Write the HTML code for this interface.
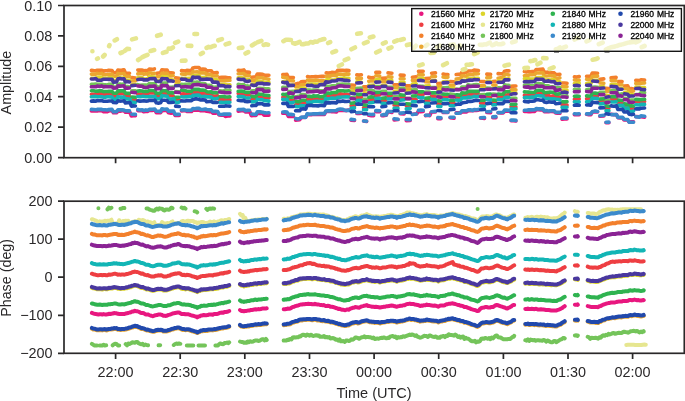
<!DOCTYPE html>
<html><head><meta charset="utf-8"><title>Amplitude and Phase</title>
<style>html,body{margin:0;padding:0;background:#fff}svg{display:block;will-change:transform}text{font-family:"Liberation Sans",sans-serif}</style></head>
<body>
<svg width="685" height="401" viewBox="0 0 685 401">
<rect width="685" height="401" fill="#fff"/>
<g fill="none" stroke-width="3.6" stroke-linecap="round" stroke-linejoin="round">
<path d="M91.4 110.9L93.6 111.0L95.8 111.0L97.2 110.9L99.5 110.4L101.8 110.7L103.2 111.6L105.2 111.8L107.3 111.7L108.7 110.9L112.0 110.5L113.4 112.8L116.5 112.8L117.9 111.2L119.9 111.3L122.0 110.8L124.0 110.8L125.4 112.3L127.7 112.3L130.0 112.5L131.4 116.0L133.4 115.8L135.4 115.6M137.8 110.6L140.0 110.6L142.3 110.7L143.7 111.7L145.8 111.5L147.8 111.4L149.2 110.4L152.1 110.4L154.9 110.0L156.3 112.8L158.4 112.7L160.5 112.8L161.9 110.7L164.5 110.5L167.1 110.5L168.5 112.8L171.1 113.1L173.7 112.8L175.1 115.4L177.1 115.5L179.2 115.5M181.5 110.9L183.5 110.7L185.5 110.7L186.9 111.4L189.2 111.3L191.5 111.5L192.9 109.8L194.9 110.3L197.0 110.1L199.0 109.9L200.4 110.6L202.8 110.6L205.3 110.7L206.7 111.2L209.0 111.6L211.3 111.7L212.7 113.1L215.2 113.1L217.7 112.8L219.1 115.0L221.6 115.1L224.0 115.1L225.4 116.4L227.7 116.0L229.9 115.9M238.2 111.1L241.1 110.8L243.9 110.6L245.3 111.9L247.6 111.6L249.9 111.9L251.3 115.6L253.6 115.5L255.9 115.4L257.3 113.3L260.0 113.4L262.6 113.3L264.0 115.1L266.4 115.0L268.9 115.1M282.8 113.3L284.9 113.2L287.0 113.6L288.4 116.5L290.9 116.5L293.4 116.4M295.6 120.1L297.7 120.0L299.7 119.7L301.1 117.6L303.4 117.5L305.7 117.3L307.1 114.5L309.5 114.7L311.9 114.6L313.3 114.2L315.7 114.4L318.1 114.1L319.5 114.5L322.0 114.5L324.4 114.5L325.8 111.5L328.1 111.5L330.4 111.5L331.8 111.6L334.1 111.6L336.4 111.9L337.8 110.5L340.3 110.4L342.8 110.2L344.2 110.5L346.5 110.6L348.9 110.1M351.1 120.2L354.5 120.4M356.8 113.4L359.1 113.4L361.4 113.2M363.6 121.0L366.6 121.4M368.8 115.3L371.2 115.6L373.6 115.7M375.8 111.7L379.7 111.7M381.9 115.7L384.1 115.6L386.2 115.2L387.6 112.0L389.7 112.0L391.9 112.5M394.1 119.9L398.0 119.5M400.2 113.8L404.1 113.9M406.3 120.6L410.2 120.4M412.4 114.3L414.6 114.1L416.7 114.0L418.1 111.7L420.7 111.6L423.2 111.5M425.5 115.6L427.7 115.3L429.8 115.6L431.2 112.3L433.3 111.9L435.5 111.9M437.8 118.7L440.9 118.7M443.1 112.5L445.5 112.3L447.9 112.4M450.1 117.7L454.0 118.2M456.2 112.8L458.4 112.8L460.5 112.9L461.9 112.0L464.2 111.7L466.6 112.0L468.0 110.8L470.4 110.8L472.7 110.8L474.1 110.1L476.2 110.4L478.4 110.2M480.6 118.0L484.5 118.4M486.8 112.4L490.6 112.6M492.8 117.7L495.9 117.6M498.1 112.7L500.7 112.9L503.2 112.9L504.6 111.3L506.7 110.9L508.9 111.1M511.1 120.7L513.5 120.7L515.9 121.0M524.4 111.5L526.5 111.5L528.6 111.6L530.0 111.7L532.3 111.4L534.7 111.5L536.1 109.7L538.4 109.8L540.6 109.9L542.9 109.7L544.3 111.6L546.4 111.6L548.5 111.8L549.9 111.4L552.0 111.5L554.2 111.6L555.6 112.9L557.7 113.1L559.9 113.3M562.1 119.3L564.5 118.9L567.0 118.9M574.4 114.7L576.8 114.5L579.2 114.6M586.6 114.3L588.8 114.7L590.9 114.7L592.3 112.0L595.0 111.6L597.6 111.9M599.9 116.3L603.8 116.0M606.0 122.8L608.9 122.8M611.1 114.3L613.8 114.8L616.5 114.5L617.9 117.6L620.2 117.9L622.6 117.8L624.0 119.9L627.7 120.0L629.1 122.0L631.3 121.9L633.5 121.8M635.8 116.6L639.5 116.8L640.9 116.8L644.6 117.1" stroke="#e8177f"/>
<path d="M91.4 94.2L93.6 94.2L95.8 94.1L97.2 93.2L99.5 93.2L101.8 93.2L103.2 94.1L105.2 93.9L107.3 94.1L108.7 93.8L112.0 94.2L113.4 96.3L116.5 96.1L117.9 93.4L119.9 93.8L122.0 93.4L124.0 93.4L125.4 96.2L127.5 96.4L129.5 96.4M131.8 100.0L135.4 99.8M137.8 94.3L140.0 94.0L142.3 94.1L143.7 93.7L145.8 93.9L147.8 93.7L149.2 92.9L152.1 93.0L154.9 93.0L156.3 95.7L158.4 95.7L160.5 95.8L161.9 93.6L164.5 93.7L167.1 93.8L168.5 95.6L170.9 95.5L173.2 95.9M175.6 99.3L179.2 99.7M181.5 94.0L183.5 93.7L185.5 94.1L186.9 94.9L189.2 94.8L191.5 94.8L192.9 92.6L194.9 92.2L197.0 92.4L199.0 92.4L200.4 93.3L202.8 93.3L205.3 93.3L206.7 94.1L209.0 94.3L211.3 94.2L212.7 96.3L215.2 96.0L217.7 95.9L219.1 99.2L221.6 99.4L224.0 99.2L225.4 100.0L227.7 99.9L229.9 99.9M238.2 93.5L241.1 93.5L243.9 93.4L245.3 94.5L247.4 95.0L249.4 95.0M251.8 99.6L253.8 99.6L255.9 99.7L257.3 96.7L260.0 97.1L262.6 96.8L264.0 97.5L266.4 97.7L268.9 97.9M282.8 97.2L284.9 97.5L287.0 97.7L288.4 100.2L290.9 100.1L293.4 100.2M295.6 104.8L297.7 104.8L299.7 104.7L301.1 102.7L303.4 102.4L305.7 102.4L307.1 99.6L309.5 99.9L311.9 99.6L313.3 98.7L315.7 98.4L318.1 98.4L319.5 99.4L321.7 99.7L324.0 99.7M326.2 96.0L328.3 95.8L330.4 95.9L331.8 95.4L334.1 95.4L336.4 95.2L337.8 94.3L340.3 93.9L342.8 94.3L344.2 95.0L346.5 94.4L348.9 94.7M351.1 105.8L354.5 105.9M356.8 97.3L359.1 97.2L361.4 97.1M363.6 107.7L366.6 107.3M368.8 99.7L371.2 99.4L373.6 99.7M375.8 95.5L379.7 95.0M381.9 100.4L385.8 100.2M388.0 96.1L391.9 96.0M394.1 105.0L398.0 105.4M400.2 97.4L404.1 97.2M406.3 105.6L410.2 105.9M412.4 99.3L416.2 99.2M418.5 94.5L420.9 94.6L423.2 94.6M425.5 100.7L429.4 100.2M431.6 96.1L435.5 96.2M437.8 103.7L440.9 104.2M443.1 96.7L445.5 96.8L447.9 96.4M450.1 103.0L454.0 103.0M456.2 97.5L458.4 97.2L460.5 97.1L461.9 95.8L464.2 95.7L466.6 95.6L468.0 94.1L470.4 94.6L472.7 94.2L474.1 94.1L476.2 93.7L478.4 93.7M480.6 103.2L484.5 103.1M486.8 97.3L490.6 97.6M492.8 102.5L495.9 102.5M498.1 97.3L500.7 97.5L503.2 97.5L504.6 94.9L506.7 95.0L508.9 94.6M511.1 106.9L513.5 106.8L515.9 107.0M524.4 95.4L526.5 95.2L528.6 95.1L530.0 95.0L532.3 94.6L534.7 94.8L536.1 93.3L538.4 93.2L540.6 93.5L542.9 93.6L544.3 95.4L546.4 95.6L548.5 95.4L549.9 96.2L552.0 96.1L554.2 95.9L555.6 96.8L557.7 96.8L559.9 97.2M562.1 104.9L564.5 104.7L567.0 105.1M574.4 99.3L576.8 99.0L579.2 98.8M586.6 98.8L588.8 98.7L590.9 98.9L592.3 95.7L595.0 95.8L597.6 95.8M599.9 101.2L603.8 101.3M606.0 108.4L608.9 108.2M611.1 99.3L613.8 99.3L616.5 99.2L617.9 102.5L620.0 102.3L622.1 102.4M624.4 106.7L627.7 106.2L629.1 108.4L631.3 108.5L633.5 108.7M635.8 101.7L639.5 101.8L640.9 101.4L644.6 101.5" stroke="#ee3e42"/>
<path d="M91.4 70.4L93.6 70.6L95.8 70.7L97.2 70.3L99.5 70.4L101.8 70.3L103.2 71.3L105.2 70.8L107.3 70.7L108.7 70.3L112.0 70.5L113.4 72.7L116.5 72.7L117.9 70.0L119.9 70.2L122.0 70.1L124.0 69.8L125.4 72.9L127.5 73.4L129.5 73.2M131.8 77.6L135.4 78.0M137.8 70.1L140.0 70.1L142.3 70.1L143.7 70.7L145.8 70.6L147.8 70.7L149.2 69.1L151.8 69.4L154.4 68.9M156.8 73.2L160.5 72.7L161.9 69.8L164.5 70.1L167.1 70.1L168.5 73.0L170.9 72.7L173.2 73.0M175.6 77.9L179.2 78.3M181.5 70.6L183.5 70.7L185.5 71.1L186.9 70.3L189.2 70.5L191.5 70.8L192.9 67.9L194.9 67.5L197.0 67.5L199.0 67.5L200.4 69.5L202.8 69.1L205.3 69.4L206.7 71.2L209.0 70.8L211.3 70.8L212.7 73.0L215.0 72.8L217.2 72.6M219.6 77.6L221.8 77.4L224.0 77.4L225.4 77.3L227.7 77.8L229.9 77.9M238.2 70.3L241.1 70.5L243.9 69.9L245.3 72.0L247.4 72.1L249.4 72.4M251.8 77.3L253.8 77.0L255.9 76.9L257.3 74.1L260.0 74.1L262.6 74.4L264.0 75.0L266.4 75.4L268.9 75.3M282.8 74.6L284.9 74.5L287.0 74.4L288.4 77.6L290.9 77.6L293.4 77.6M295.6 83.9L297.7 83.4L299.7 83.5L301.1 81.9L303.2 81.6L305.2 81.5M307.5 76.6L309.7 77.0L311.9 76.8L313.3 76.7L315.7 76.6L318.1 76.7L319.5 76.5L321.7 76.4L324.0 76.4M326.2 72.9L328.3 73.1L330.4 72.9L331.8 72.4L334.1 72.5L336.4 72.7L337.8 70.2L340.3 70.2L342.8 70.3L344.2 70.5L346.5 70.2L348.9 70.6M351.1 85.0L354.5 85.2M356.8 74.9L359.1 75.1L361.4 74.8M363.6 86.9L366.6 86.9M368.8 77.2L371.2 77.7L373.6 77.5M375.8 72.4L379.7 72.4M381.9 78.4L385.8 78.1M388.0 72.9L391.9 73.2M394.1 84.7L398.0 84.9M400.2 75.1L404.1 75.3M406.3 85.7L410.2 85.7M412.4 77.3L416.2 76.8M418.5 71.4L420.9 71.3L423.2 71.3M425.5 78.6L429.4 78.3M431.6 73.2L435.5 72.9M437.8 83.5L440.9 83.3M443.1 74.1L445.5 74.5L447.9 74.6M450.1 81.5L454.0 81.8M456.2 74.5L458.4 74.3L460.5 74.4L461.9 72.2L464.2 72.2L466.6 72.3L468.0 71.0L470.4 71.0L472.7 70.8L474.1 70.1L476.2 70.3L478.4 70.5M480.6 81.5L484.5 81.6M486.8 74.1L490.6 74.4M492.8 81.5L495.9 81.2M498.1 73.6L500.7 73.8L503.2 73.9L504.6 71.2L506.7 70.8L508.9 70.9M511.1 86.3L513.5 86.1L515.9 86.0M524.4 71.5L526.5 71.9L528.6 71.5L530.0 71.7L532.3 71.6L534.7 71.6L536.1 69.5L538.4 69.6L540.6 69.2L542.9 69.1L544.3 72.5L546.4 72.2L548.5 72.1L549.9 73.0L552.0 72.7L554.2 72.9L555.6 74.3L557.7 74.5L559.9 74.3M562.1 83.0L564.5 83.0L567.0 83.3M574.4 76.9L576.8 77.1L579.2 76.6M586.6 76.3L588.8 76.2L590.9 76.2L592.3 73.0L595.0 73.1L597.6 73.2M599.9 79.4L603.8 78.9M606.0 88.4L608.9 88.5M611.1 77.9L613.6 77.5L616.1 77.4M618.4 81.6L622.1 81.6M624.4 86.0L627.7 85.8L629.1 88.9L631.3 88.5L633.5 88.9M635.8 80.4L639.5 80.5L640.9 79.8L644.6 80.1" stroke="#f3802c"/>
<path d="M91.4 74.1L93.6 74.0L95.8 74.1L97.2 73.4L99.5 73.8L101.8 73.4L103.2 74.6L105.2 74.7L107.3 74.5L108.7 74.3L112.0 74.1L113.4 76.2L116.5 76.4L117.9 73.4L119.9 73.9L122.0 73.7L124.0 73.6L125.4 76.5L127.5 76.2L129.5 76.6M131.8 81.0L135.4 80.8M137.8 73.9L140.0 73.7L142.3 73.5L143.7 74.2L145.8 73.8L147.8 74.2L149.2 72.8L151.8 73.1L154.4 73.3M156.8 76.8L160.5 76.8L161.9 73.4L164.5 73.2L167.1 73.2L168.5 75.6L170.9 75.9L173.2 75.8M175.6 81.2L179.2 81.4M181.5 74.0L183.5 74.1L185.5 74.3L186.9 73.7L189.2 73.7L191.5 73.9L192.9 71.8L194.9 72.0L197.0 71.9L199.0 72.1L200.4 72.9L202.8 72.7L205.3 73.0L206.7 74.6L209.0 74.4L211.3 74.8L212.7 76.0L215.0 76.0L217.2 75.9M219.6 80.7L221.8 80.8L224.0 80.8L225.4 80.6L227.7 80.5L229.9 80.3M238.2 73.7L241.1 73.7L243.9 73.5L245.3 75.6L247.4 75.5L249.4 75.8M251.8 80.6L253.8 80.3L255.9 80.7L257.3 77.5L260.0 77.8L262.6 77.7L264.0 78.8L266.4 78.7L268.9 79.2M282.8 77.2L284.9 77.6L287.0 77.8L288.4 80.6L290.9 80.7L293.4 80.9M295.6 86.6L297.7 86.7L299.7 86.8L301.1 84.7L303.2 84.8L305.2 84.7M307.5 80.0L309.7 80.5L311.9 80.4L313.3 80.5L315.7 80.1L318.1 80.6L319.5 80.7L321.7 80.5L324.0 80.7M326.2 76.3L328.3 76.1L330.4 76.1L331.8 75.5L334.1 75.4L336.4 75.6L337.8 74.1L340.3 74.1L342.8 74.2L344.2 74.2L346.5 73.9L348.9 74.1M351.1 87.9L354.5 88.1M356.8 78.3L359.1 78.2L361.4 78.4M363.6 90.1L366.6 89.7M368.8 81.3L371.2 80.7L373.6 80.9M375.8 75.8L379.7 76.1M381.9 81.7L385.8 81.6M388.0 76.7L391.9 77.1M394.1 87.3L398.0 87.3M400.2 78.8L404.1 78.7M406.3 88.9L410.2 88.9M412.4 80.4L416.2 80.1M418.5 74.9L420.9 74.8L423.2 74.9M425.5 81.8L429.4 82.0M431.6 76.7L435.5 76.5M437.8 86.4L440.9 86.6M443.1 77.0L445.5 77.5L447.9 77.1M450.1 85.2L454.0 85.3M456.2 79.1L458.4 78.7L460.5 78.6L461.9 75.9L464.2 75.9L466.6 76.3L468.0 74.8L470.4 74.8L472.7 74.8L474.1 73.6L476.2 73.9L478.4 73.7M480.6 85.8L484.5 85.8M486.8 77.8L490.6 77.3M492.8 85.0L495.9 85.1M498.1 78.2L500.7 77.7L503.2 77.8L504.6 74.5L506.7 74.5L508.9 75.0M511.1 89.9L513.5 89.8L515.9 89.9M524.4 75.7L526.5 75.5L528.6 75.4L530.0 74.4L532.3 74.8L534.7 74.5L536.1 73.0L538.4 73.0L540.6 72.8L542.9 72.9L544.3 75.8L546.4 76.0L548.5 75.8L549.9 75.6L552.0 76.0L554.2 75.7L555.6 78.4L557.7 78.2L559.9 77.9M562.1 86.5L564.5 86.5L567.0 86.7M574.4 80.0L576.8 80.2L579.2 80.1M586.6 79.3L588.8 79.7L590.9 79.3L592.3 76.6L595.0 76.2L597.6 76.1M599.9 82.9L603.8 83.3M606.0 91.7L608.9 91.1M611.1 80.6L613.6 80.6L616.1 80.8M618.4 84.6L622.1 84.8M624.4 88.5L627.7 88.8L629.1 91.1L631.3 91.5L633.5 91.1M635.8 83.4L639.5 83.7L640.9 83.2L644.6 83.0" stroke="#eba730"/>
<path d="M91.4 78.4L93.6 78.4L95.8 78.3L97.2 77.6L99.5 77.4L101.8 77.4L103.2 78.5L105.2 78.4L107.3 78.6L108.7 77.7L112.0 77.9L113.4 80.8L116.5 80.7L117.9 78.1L119.9 77.9L122.0 78.0L124.0 78.0L125.4 80.3L127.5 80.2L129.5 80.3M131.8 84.8L135.4 84.4M137.8 77.8L140.0 77.9L142.3 77.7L143.7 78.7L145.8 79.0L147.8 78.4L149.2 76.9L151.8 76.7L154.4 77.0M156.8 81.1L160.0 80.8M162.3 76.5L164.7 76.8L167.1 76.8L168.5 80.0L170.9 79.9L173.2 80.0M175.6 84.8L179.2 84.6M181.5 78.3L183.5 78.6L185.5 78.2L186.9 78.5L189.2 78.3L191.5 78.5L192.9 75.5L194.9 76.0L197.0 75.6L199.0 75.5L200.4 77.5L202.8 77.5L205.3 77.3L206.7 78.2L209.0 78.2L211.3 78.3L212.7 79.9L215.0 79.9L217.2 79.9M219.6 84.5L221.8 84.6L224.0 84.3L225.4 84.6L227.7 85.0L229.9 84.7M238.2 77.8L241.1 77.7L243.9 78.1L245.3 79.7L247.4 79.6L249.4 79.5M251.8 84.2L253.8 84.0L255.9 84.4L257.3 81.2L260.0 81.4L262.6 81.5L264.0 82.8L266.4 82.5L268.9 82.4M282.8 81.8L284.9 81.6L287.0 82.0L288.4 85.1L290.9 85.4L293.4 85.0M295.6 90.2L297.7 90.2L299.7 90.3L301.1 88.0L303.2 87.9L305.2 88.3M307.5 84.1L309.7 84.1L311.9 84.1L313.3 84.1L315.7 84.1L318.1 84.2L319.5 84.3L321.7 84.1L324.0 84.4M326.2 80.1L328.3 79.6L330.4 80.1L331.8 80.1L334.1 80.0L336.4 79.6L337.8 78.5L340.3 78.4L342.8 78.1L344.2 77.8L346.5 78.4L348.9 78.2M351.1 91.4L354.5 91.3M356.8 81.8L359.1 81.9L361.4 82.2M363.6 93.8L366.6 93.6M368.8 85.4L371.2 85.3L373.6 85.0M375.8 79.8L379.7 79.6M381.9 85.5L385.8 85.4M388.0 80.6L391.9 80.6M394.1 91.4L398.0 91.0M400.2 82.4L404.1 82.3M406.3 91.9L410.2 91.7M412.4 84.0L416.2 83.8M418.5 78.6L420.9 78.6L423.2 78.5M425.5 86.0L429.4 85.8M431.6 80.8L435.5 80.6M437.8 89.4L440.9 89.4M443.1 81.9L445.5 82.1L447.9 81.6M450.1 88.6L454.0 88.4M456.2 82.2L458.4 82.2L460.5 82.3L461.9 80.2L464.2 80.3L466.6 80.6L468.0 78.4L470.4 78.7L472.7 78.7L474.1 78.0L476.2 78.4L478.4 78.4M480.6 89.0L484.5 88.6M486.8 81.5L490.6 81.2M492.8 88.2L495.9 88.4M498.1 80.8L500.7 81.2L503.2 81.2L504.6 78.7L506.7 79.0L508.9 78.7M511.1 92.8L513.5 92.8L515.9 93.0M524.4 78.6L526.5 78.8L528.6 78.8L530.0 79.0L532.3 79.1L534.7 78.8L536.1 77.7L538.4 77.5L540.6 77.5L542.9 77.4L544.3 79.8L546.4 80.1L548.5 79.9L549.9 80.1L552.0 79.9L554.2 79.9L555.6 81.7L557.7 81.8L559.9 81.9M562.1 90.4L564.5 90.0L567.0 90.4M574.4 83.5L576.8 83.3L579.2 83.0M586.6 83.6L588.8 83.4L590.9 83.5L592.3 80.5L595.0 80.3L597.6 80.4M599.9 86.8L603.8 86.9M606.0 95.5L608.9 95.5M611.1 84.6L613.6 84.6L616.1 84.6M618.4 88.6L622.1 88.3M624.4 92.6L627.7 92.5L629.1 95.2L631.3 94.8L633.5 94.8M635.8 87.0L639.5 87.5L640.9 87.6L644.6 87.5" stroke="#dcd42a"/>
<path d="M92.4 51.2h0.01M97.1 58.9L97.9 58.4M103.1 56.5L104.6 55.0M109.1 46.2L109.5 45.2M114.7 40.4L116.9 39.2M120.5 53.0L122.7 52.1M124.9 50.7L127.0 48.9L129.1 49.0M132.1 39.4L135.9 38.4M138.1 60.0L140.2 58.6M142.4 57.1L144.9 55.9L147.5 54.8M150.6 50.9L154.2 50.1M157.1 35.8L160.7 34.7M162.9 52.9L166.5 51.7M168.7 48.5L170.8 48.7L172.9 47.5M175.1 42.9L178.2 41.6M181.8 60.8L185.5 60.6M187.7 45.8L191.3 45.9M194.4 34.0L197.1 34.0M200.8 54.0L202.9 52.8M206.6 47.9L208.6 46.9L210.7 47.3L212.7 46.3L214.7 45.8M218.3 40.3L221.9 39.1M225.6 44.4L229.3 43.2M238.8 48.0L242.4 47.6M245.5 53.5L248.2 52.1M251.9 45.4L255.5 43.3M257.7 42.2L261.4 40.8M263.6 44.9L265.9 44.3L268.1 44.7M283.4 41.2L285.9 39.8L288.4 39.8L290.9 40.0M293.1 43.1L295.3 43.7L297.4 42.8L299.6 41.8M301.8 44.2L304.0 44.1L306.1 43.5L308.3 43.5M310.5 42.1L312.7 42.6L314.9 41.6L317.1 41.7M319.3 40.4L321.9 39.6L324.4 39.0M328.1 43.0L330.2 42.1M332.4 52.4L336.1 51.0M338.8 66.0L341.9 64.5M344.7 60.2L348.3 58.7M351.4 49.3L355.0 47.5M357.2 33.8L360.9 33.2M363.9 43.3L367.6 41.9M369.8 37.5L373.4 36.5M376.2 52.5L379.9 50.7M382.9 43.6L385.7 42.4M388.5 48.5L391.5 47.3M394.3 41.7L397.4 40.3M400.1 39.9L403.8 39.0M406.9 45.1L410.5 44.3M413.6 48.1L415.9 45.8M419.1 65.5L422.6 64.4M425.6 46.1L427.4 44.6M430.5 53.0L434.0 52.7M437.1 47.0L439.9 45.7M443.1 65.1L446.9 63.2M450.1 45.0L453.9 44.5M456.6 47.5L459.9 45.5M462.8 69.8L465.3 69.0M466.6 64.7L469.2 64.6L471.9 64.2M474.1 54.2L477.6 52.7M479.8 44.7L481.9 44.9L483.9 44.4M486.1 44.3L489.9 42.7M492.1 45.2L494.2 44.6L496.4 43.3M498.6 44.3L500.9 44.2L503.3 43.6M504.5 65.7L506.7 65.1L508.9 64.7M512.1 42.4L515.6 41.3M524.4 68.1L527.9 67.7M530.3 61.1L532.8 60.8L535.3 60.0M537.5 64.3L540.4 62.7M543.1 58.1L546.5 58.3M549.7 68.8L553.6 67.3M555.8 49.2L557.9 48.9L559.9 47.5M562.1 48.2L565.9 46.7M574.6 39.6L576.8 38.3L578.9 37.8M586.5 41.4L589.4 40.2M592.6 59.7L595.1 59.3L597.6 58.3M598.8 44.2L602.7 42.6M605.9 49.6L608.9 48.2M611.1 47.3L614.9 46.4M617.1 45.9L619.1 45.1L621.1 44.7M623.3 44.1L627.3 42.9M629.5 42.4L633.4 42.0M635.6 42.3L639.5 40.6M641.7 47.2L644.6 46.0" stroke="#e6e690" stroke-width="4.6"/>
<path d="M91.4 84.4L93.6 84.3L95.8 84.0L97.2 84.4L99.5 84.3L101.8 84.3L103.2 84.6L105.2 84.7L107.3 85.0L108.7 84.3L112.0 84.2L113.4 87.1L116.5 87.2L117.9 84.5L119.9 84.0L122.0 84.4L124.0 84.1L125.4 87.2L127.5 86.6L129.5 87.1M131.8 90.9L135.4 90.8M137.8 84.7L140.0 85.2L142.3 85.0L143.7 85.0L145.8 85.1L147.8 85.4L149.2 83.6L152.1 83.8L154.9 83.5L156.3 86.6L158.4 87.0L160.5 87.0L161.9 83.2L164.3 83.1L166.7 83.1M169.0 87.3L171.1 87.2L173.2 87.1M175.6 91.5L179.2 91.7M181.5 84.4L183.5 84.5L185.5 84.3L186.9 84.2L189.2 84.1L191.5 84.5L192.9 82.2L194.9 82.4L197.0 82.0L199.0 82.5L200.4 83.6L202.8 83.9L205.3 83.9L206.7 85.5L209.0 85.2L211.3 85.8L212.7 87.0L215.0 87.3L217.2 86.9M219.6 90.7L221.8 91.1L224.0 90.8L225.4 90.0L227.7 90.2L229.9 90.3M238.2 84.4L241.1 84.7L243.9 84.6L245.3 86.2L247.4 85.9L249.4 86.3M251.8 90.9L253.8 90.9L255.9 90.6L257.3 88.6L260.0 88.4L262.6 88.6L264.0 88.4L266.4 88.9L268.9 88.9M282.8 87.4L286.6 87.5M288.8 91.6L291.1 91.6L293.4 91.2M295.6 96.8L297.7 96.4L299.7 96.3L301.1 94.5L303.2 94.6L305.2 94.9M307.5 90.0L309.7 90.0L311.9 90.4L313.3 90.1L315.7 90.0L318.1 90.3L319.5 90.7L321.7 90.7L324.0 90.8M326.2 86.0L328.3 86.5L330.4 86.4L331.8 85.9L334.1 85.9L336.4 86.2L337.8 84.3L340.3 84.2L342.8 84.1L344.2 84.4L346.5 84.3L348.9 84.6M351.1 97.8L354.5 97.4M356.8 88.2L359.1 88.3L361.4 88.0M363.6 99.2L366.6 99.3M368.8 90.6L371.2 90.6L373.6 90.8M375.8 86.6L379.7 86.5M381.9 91.4L385.8 91.3M388.0 87.2L391.9 87.2M394.1 96.7L398.0 96.7M400.2 88.3L404.1 88.2M406.3 98.6L410.2 98.6M412.4 90.0L416.2 89.6M418.5 86.1L420.9 86.4L423.2 86.4M425.5 92.0L429.4 92.1M431.6 87.6L435.5 87.5M437.8 95.2L440.9 95.0M443.1 87.8L445.5 87.8L447.9 87.5M450.1 94.1L454.0 94.6M456.2 89.3L458.4 89.4L460.5 89.2L461.9 87.0L464.2 87.0L466.6 87.0L468.0 84.8L470.4 85.2L472.7 85.0L474.1 84.7L476.2 84.5L478.4 84.7M480.6 94.8L484.5 94.6M486.8 88.1L490.6 88.3M492.8 94.0L495.9 94.3M498.1 87.9L500.7 87.9L503.2 88.1L504.6 84.9L506.7 85.2L508.9 85.4M511.1 98.3L513.5 98.2L515.9 98.3M524.4 85.2L526.5 85.0L528.6 85.0L530.0 85.6L532.3 85.7L534.7 85.8L536.1 83.8L538.4 83.8L540.6 83.7L542.9 84.0L544.3 85.9L546.4 85.7L548.5 85.7L549.9 87.0L552.0 86.7L554.2 87.0L555.6 87.7L557.7 87.8L559.9 87.8M562.1 96.0L564.5 96.0L567.0 95.9M574.4 89.3L576.8 89.5L579.2 89.4M586.6 89.7L588.8 89.3L590.9 89.5L592.3 87.4L595.0 87.1L597.6 87.3M599.9 92.3L603.8 92.2M606.0 100.6L608.9 100.2M611.1 90.9L613.8 90.6L616.5 90.5L617.9 94.4L620.0 94.2L622.1 93.9M624.4 98.4L627.7 98.5L629.1 100.4L631.3 100.0L633.5 100.1M635.8 94.5L639.5 94.3L640.9 92.5L644.6 92.6" stroke="#74c45a"/>
<path d="M91.4 90.8L93.6 90.8L95.8 91.2L97.2 91.1L99.5 90.9L101.8 90.7L103.2 91.6L105.2 91.5L107.3 91.5L108.7 91.4L112.0 91.4L113.4 93.3L116.5 93.2L117.9 90.8L119.9 90.9L122.0 90.9L124.0 90.7L125.4 93.1L127.5 93.4L129.5 93.4M131.8 97.0L135.4 97.4M137.8 91.1L140.0 90.8L142.3 91.0L143.7 91.5L145.8 91.2L147.8 91.4L149.2 90.3L152.1 90.5L154.9 90.8L156.3 93.4L158.4 93.4L160.5 93.2L161.9 90.6L164.5 90.7L167.1 90.5L168.5 92.7L170.9 92.6L173.2 92.9M175.6 97.4L179.2 97.3M181.5 90.3L183.5 90.3L185.5 90.7L186.9 91.3L189.2 91.3L191.5 91.4L192.9 89.2L194.9 89.4L197.0 89.2L199.0 89.4L200.4 90.1L202.8 90.0L205.3 90.5L206.7 91.7L209.0 92.0L211.3 91.7L212.7 92.7L215.0 92.8L217.2 92.7M219.6 96.7L221.8 96.5L224.0 96.4L225.4 97.0L227.7 97.0L229.9 96.8M238.2 91.3L241.1 91.1L243.9 91.4L245.3 92.3L247.4 92.4L249.4 92.2M251.8 96.2L253.8 96.7L255.9 96.7L257.3 93.9L260.0 94.3L262.6 94.2L264.0 95.2L266.4 95.3L268.9 95.6M282.8 94.3L284.9 94.5L287.0 94.1L288.4 97.0L290.9 97.2L293.4 96.9M295.6 101.5L297.7 101.8L299.7 101.6L301.1 100.5L303.2 100.2L305.2 100.2M307.5 96.4L309.7 96.3L311.9 96.7L313.3 95.9L315.7 96.1L318.1 95.8L319.5 96.7L322.0 96.6L324.4 96.6L325.8 93.0L328.1 93.1L330.4 93.5L331.8 92.6L334.1 92.5L336.4 92.5L337.8 90.8L340.3 90.8L342.8 90.7L344.2 91.1L346.5 91.0L348.9 90.8M351.1 103.2L354.5 102.8M356.8 94.3L359.1 94.6L361.4 94.2M363.6 104.9L366.6 105.1M368.8 97.3L371.2 96.9L373.6 97.0M375.8 92.4L379.7 92.2M381.9 98.4L385.8 97.9M388.0 93.4L391.9 93.2M394.1 102.9L398.0 103.1M400.2 94.8L404.1 95.2M406.3 103.7L410.2 104.1M412.4 96.0L416.2 95.9M418.5 91.7L420.9 91.9L423.2 91.7M425.5 98.3L429.4 97.9M431.6 92.9L435.5 92.9M437.8 100.8L440.9 101.1M443.1 94.1L445.5 94.2L447.9 94.2M450.1 100.4L454.0 100.5M456.2 94.9L458.4 94.9L460.5 95.3L461.9 92.8L464.2 93.0L466.6 92.7L468.0 91.4L470.4 91.3L472.7 91.4L474.1 91.4L476.2 91.3L478.4 91.4M480.6 100.4L484.5 100.3M486.8 94.2L490.6 94.0M492.8 100.0L495.9 100.3M498.1 94.1L500.7 94.2L503.2 94.2L504.6 91.6L506.7 91.7L508.9 91.5M511.1 104.4L513.5 104.4L515.9 104.2M524.4 91.9L526.5 92.0L528.6 92.1L530.0 92.2L532.3 92.5L534.7 92.2L536.1 90.6L538.4 90.3L540.6 90.3L542.9 90.7L544.3 92.6L546.4 92.6L548.5 92.2L549.9 92.1L552.0 92.2L554.2 92.2L555.6 94.0L557.7 94.1L559.9 93.8M562.1 101.7L564.5 101.9L567.0 101.6M574.4 96.2L576.8 96.1L579.2 96.2M586.6 95.9L588.8 96.0L590.9 96.2L592.3 93.3L595.0 93.1L597.6 93.6M599.9 99.1L603.8 98.8M606.0 105.8L608.9 106.3M611.1 96.8L613.6 96.5L616.1 96.6M618.4 100.1L622.1 100.5M624.4 103.9L627.7 104.3L629.1 106.1L631.3 105.7L633.5 106.1M635.8 99.4L639.5 99.6L640.9 99.6L644.6 99.3" stroke="#2fb350"/>
<path d="M91.4 96.8L93.6 96.6L95.8 96.4L97.2 96.8L99.5 96.8L101.8 96.7L103.2 97.1L105.2 97.2L107.3 96.8L108.7 96.8L112.0 97.1L113.4 99.1L116.5 99.2L117.9 96.7L119.9 97.1L122.0 97.1L124.0 97.1L125.4 98.9L127.7 98.9L130.0 99.2L131.4 102.4L133.4 102.4L135.4 102.5M137.8 96.5L140.0 96.8L142.3 96.4L143.7 96.4L145.8 96.8L147.8 96.8L149.2 96.5L152.1 96.5L154.9 96.6L156.3 99.0L158.4 98.8L160.5 98.8L161.9 95.9L164.5 96.0L167.1 96.2L168.5 98.7L171.1 99.1L173.7 98.8L175.1 102.1L177.1 102.5L179.2 101.9M181.5 96.8L183.5 97.0L185.5 96.9L186.9 96.8L189.2 96.4L191.5 96.9L192.9 95.4L194.9 95.4L197.0 95.1L199.0 95.1L200.4 96.5L202.8 96.5L205.3 96.4L206.7 96.9L209.0 96.9L211.3 97.1L212.7 98.8L215.0 98.8L217.2 98.4M219.6 102.3L221.8 102.4L224.0 102.5L225.4 102.3L227.7 102.2L229.9 102.2M238.2 96.5L241.1 96.6L243.9 96.9L245.3 98.0L247.4 98.0L249.4 98.0M251.8 101.9L253.8 101.7L255.9 101.8L257.3 99.3L260.0 99.7L262.6 99.6L264.0 100.7L266.4 100.8L268.9 101.1M282.8 99.4L284.9 99.5L287.0 99.3L288.4 102.4L290.9 102.7L293.4 102.2M295.6 106.4L297.7 106.7L299.7 106.5L301.1 105.5L303.2 105.8L305.2 105.7M307.5 102.2L309.7 102.1L311.9 102.2L313.3 101.5L315.7 101.4L318.1 101.3L319.5 101.5L322.0 101.9L324.4 101.7L325.8 98.5L328.1 98.9L330.4 98.5L331.8 98.1L334.1 98.3L336.4 98.2L337.8 97.2L340.3 97.2L342.8 97.0L344.2 97.0L346.5 96.7L348.9 97.0M351.1 108.2L354.5 107.9M356.8 100.6L359.1 100.4L361.4 100.6M363.6 109.8L366.6 109.6M368.8 102.7L371.2 102.7L373.6 102.3M375.8 98.5L379.7 98.3M381.9 103.2L385.8 103.6M388.0 99.0L391.9 98.8M394.1 108.4L398.0 108.2M400.2 100.2L404.1 99.8M406.3 108.9L410.2 108.4M412.4 101.7L416.2 101.7M418.5 97.3L420.9 97.7L423.2 97.5M425.5 103.3L429.4 103.5M431.6 99.2L435.5 99.5M437.8 106.3L440.9 106.5M443.1 99.5L445.5 99.8L447.9 99.7M450.1 105.5L454.0 105.8M456.2 100.0L458.4 100.2L460.5 100.2L461.9 98.2L464.2 97.7L466.6 97.9L468.0 97.1L470.4 97.2L472.7 97.0L474.1 96.3L476.2 96.7L478.4 96.4M480.6 106.0L484.5 106.2M486.8 99.4L490.6 99.9M492.8 104.9L495.9 104.7M498.1 99.4L500.7 99.5L503.2 99.7L504.6 97.7L506.7 97.4L508.9 97.3M511.1 108.9L513.5 109.3L515.9 108.9M524.4 97.6L526.5 97.4L528.6 97.6L530.0 97.2L532.3 97.1L534.7 97.5L536.1 95.8L538.4 95.8L540.6 95.9L542.9 96.0L544.3 98.3L546.4 98.5L548.5 98.4L549.9 98.7L552.0 98.9L554.2 98.8L555.6 99.2L557.7 99.3L559.9 99.7M562.1 107.4L564.5 107.2L567.0 107.2M574.4 101.7L576.8 102.1L579.2 101.9M586.6 101.8L588.8 101.6L590.9 101.3L592.3 98.3L595.0 98.2L597.6 98.6M599.9 103.9L603.8 103.6M606.0 110.8L608.9 110.9M611.1 102.0L613.6 102.0L616.1 101.9M618.4 105.4L620.5 105.2L622.6 105.6L624.0 108.2L627.7 108.0L629.1 111.4L631.3 111.7L633.5 111.1M635.8 104.7L639.5 105.0L640.9 104.4L644.6 104.4" stroke="#12b5b5"/>
<path d="M91.4 109.4L93.6 109.5L95.8 109.7L97.2 109.4L99.5 109.3L101.8 109.4L103.2 109.7L105.2 109.8L107.3 110.0L108.7 109.6L112.0 109.4L113.4 111.8L116.5 111.6L117.9 109.7L119.9 109.9L122.0 109.7L124.0 110.1L125.4 110.8L127.5 110.9L129.5 110.9M131.8 114.3L135.4 114.4M137.8 109.4L140.0 110.0L142.3 109.7L143.7 110.5L145.8 109.9L147.8 110.3L149.2 109.4L152.1 109.2L154.9 109.1L156.3 111.3L158.4 111.3L160.5 111.6L161.9 108.9L164.5 109.3L167.1 109.1L168.5 111.1L171.1 111.1L173.7 111.1L175.1 114.4L177.1 114.4L179.2 114.2M181.5 110.0L183.5 109.7L185.5 110.0L186.9 110.4L189.2 110.4L191.5 110.1L192.9 108.6L194.9 108.7L197.0 108.4L199.0 108.3L200.4 109.2L202.8 109.5L205.3 109.0L206.7 109.5L209.0 109.7L211.3 109.9L212.7 111.5L215.2 111.2L217.7 111.6L219.1 114.2L221.6 114.5L224.0 114.1L225.4 114.1L227.7 114.1L229.9 114.1M238.2 109.5L241.1 109.6L243.9 109.3L245.3 110.7L247.4 110.4L249.4 110.3M251.8 114.0L253.8 114.3L255.9 114.4L257.3 111.8L260.0 111.7L262.6 112.2L264.0 112.6L266.4 113.0L268.9 112.7M282.8 112.0L284.9 111.9L287.0 112.1L288.4 114.5L290.9 114.4L293.4 114.8M295.6 118.5L297.7 118.9L299.7 118.5L301.1 117.3L303.4 117.1L305.7 117.4L307.1 113.8L309.5 114.1L311.9 114.0L313.3 113.9L315.7 113.9L318.1 113.7L319.5 113.6L322.0 113.6L324.4 113.6L325.8 111.0L328.1 110.9L330.4 110.9L331.8 110.8L334.1 110.7L336.4 110.5L337.8 109.5L340.3 109.0L342.8 109.2L344.2 110.0L346.5 110.4L348.9 110.4M351.1 119.4L354.5 119.7M356.8 112.8L359.1 112.5L361.4 112.5M363.6 121.0L366.6 121.2M368.8 114.2L371.2 114.5L373.6 114.4M375.8 110.6L379.7 110.7M381.9 114.9L384.1 114.5L386.2 114.9L387.6 111.2L389.7 111.5L391.9 111.5M394.1 118.8L398.0 119.3M400.2 113.1L404.1 112.7M406.3 119.5L410.2 119.6M412.4 114.5L416.2 114.0M418.5 110.4L420.9 110.0L423.2 110.3M425.5 115.2L429.4 115.3M431.6 111.7L435.5 111.3M437.8 117.6L440.9 117.9M443.1 111.9L445.5 112.0L447.9 112.1M450.1 117.2L454.0 117.3M456.2 113.3L458.4 113.2L460.5 112.8L461.9 110.8L464.2 110.7L466.6 110.8L468.0 109.9L470.4 109.8L472.7 110.4L474.1 109.5L476.2 109.8L478.4 109.4M480.6 117.7L484.5 117.5M486.8 111.7L490.6 111.5M492.8 116.9L495.9 116.6M498.1 112.6L500.7 112.5L503.2 112.2L504.6 110.1L506.7 110.1L508.9 110.4M511.1 120.1L513.5 120.0L515.9 120.4M524.4 110.3L526.5 110.2L528.6 109.9L530.0 109.8L532.3 109.9L534.7 109.8L536.1 108.6L538.4 108.9L540.6 108.8L542.9 108.9L544.3 110.9L546.4 110.6L548.5 111.0L549.9 110.9L552.0 110.8L554.2 110.8L555.6 112.3L557.7 112.4L559.9 112.4M562.1 118.3L564.5 118.1L567.0 118.1M574.4 113.7L576.8 114.0L579.2 113.7M586.6 113.9L588.8 113.9L590.9 113.8L592.3 111.7L595.0 111.1L597.6 111.5M599.9 115.7L603.8 115.3M606.0 122.2L608.9 122.1M611.1 114.6L613.8 114.6L616.5 114.5L617.9 117.4L620.2 117.4L622.6 117.4L624.0 119.2L627.7 119.6L629.1 122.1L631.3 122.3L633.5 122.2M635.8 116.7L639.5 117.1L640.9 115.8L644.6 116.2" stroke="#3b8acc"/>
<path d="M91.4 101.1L93.6 100.9L95.8 101.2L97.2 100.5L99.5 100.7L101.8 100.5L103.2 101.1L105.2 101.2L107.3 101.3L108.7 101.0L112.0 101.0L113.4 102.5L116.5 102.7L117.9 100.7L119.9 101.1L122.0 101.0L124.0 100.8L125.4 103.0L127.7 102.8L130.0 102.6L131.4 106.2L133.4 105.9L135.4 106.0M137.8 100.8L140.0 101.1L142.3 101.0L143.7 100.7L145.8 101.1L147.8 101.0L149.2 100.2L152.1 100.4L154.9 100.2L156.3 102.8L158.4 103.1L160.5 102.8L161.9 100.3L164.5 100.3L167.1 100.5L168.5 102.5L170.9 102.5L173.2 102.3M175.6 106.1L179.2 106.5M181.5 100.9L183.5 101.0L185.5 101.0L186.9 100.6L189.2 100.7L191.5 100.6L192.9 99.4L194.9 98.9L197.0 98.9L199.0 99.3L200.4 100.0L202.8 99.7L205.3 100.1L206.7 101.7L209.0 101.5L211.3 101.3L212.7 102.5L215.0 102.4L217.2 102.5M219.6 106.3L221.8 106.2L224.0 106.2L225.4 105.9L227.7 106.0L229.9 106.1M238.2 100.3L241.1 100.8L243.9 100.4L245.3 101.5L247.4 101.6L249.4 101.5M251.8 105.7L253.8 105.5L255.9 105.5L257.3 103.9L260.0 103.7L262.6 103.8L264.0 104.9L266.4 104.9L268.9 104.9M282.8 103.4L284.9 103.4L287.0 103.3L288.4 106.5L290.9 106.4L293.4 106.4M295.6 110.7L297.7 110.8L299.7 110.7L301.1 109.1L303.4 108.8L305.7 109.2L307.1 105.6L309.5 105.3L311.9 105.4L313.3 105.8L315.7 105.8L318.1 105.9L319.5 105.5L322.0 105.5L324.4 105.8L325.8 102.6L328.1 102.9L330.4 102.9L331.8 102.6L334.1 102.6L336.4 102.9L337.8 101.1L340.3 101.4L342.8 100.9L344.2 101.4L346.5 101.5L348.9 101.2M351.1 111.6L354.5 111.2M356.8 104.1L359.1 103.9L361.4 104.3M363.6 113.7L366.6 113.8M368.8 106.6L371.2 106.7L373.6 106.7M375.8 101.8L379.7 101.8M381.9 106.8L385.8 106.3M388.0 102.9L391.9 102.5M394.1 110.8L398.0 110.8M400.2 104.2L404.1 104.3M406.3 112.3L410.2 112.4M412.4 105.4L416.2 105.8M418.5 101.7L420.9 101.4L423.2 101.3M425.5 106.6L429.4 106.2M431.6 103.0L435.5 102.7M437.8 110.5L440.9 110.7M443.1 103.6L445.5 103.8L447.9 103.5M450.1 109.6L454.0 109.3M456.2 104.4L458.4 103.9L460.5 104.3L461.9 102.9L464.2 102.5L466.6 102.3L468.0 101.3L470.4 101.4L472.7 101.2L474.1 100.6L476.2 100.3L478.4 100.5M480.6 109.7L484.5 109.5M486.8 103.6L490.6 103.2M492.8 109.0L495.9 108.6M498.1 103.6L500.7 103.6L503.2 103.6L504.6 101.5L506.7 101.4L508.9 101.4M511.1 112.7L513.5 112.6L515.9 112.8M524.4 101.4L526.5 101.7L528.6 101.9L530.0 101.2L532.3 101.2L534.7 100.9L536.1 99.7L538.4 99.8L540.6 100.2L542.9 100.1L544.3 102.0L546.4 102.4L548.5 101.9L549.9 102.0L552.0 102.3L554.2 101.9L555.6 103.7L557.7 103.5L559.9 103.2M562.1 110.7L564.5 110.8L567.0 110.7M574.4 105.2L576.8 104.9L579.2 105.3M586.6 105.0L588.8 104.9L590.9 105.2L592.3 102.2L595.0 102.5L597.6 102.6M599.9 107.9L603.8 107.8M606.0 113.8L608.9 114.1M611.1 105.9L613.8 106.3L616.5 105.9L617.9 109.5L620.2 109.4L622.6 109.4L624.0 112.0L627.7 111.7L629.1 114.2L631.3 114.6L633.5 114.3M635.8 108.9L639.5 108.9L640.9 108.2L644.6 108.0" stroke="#2149ac"/>
<path d="M91.4 79.0L93.6 79.0L95.8 78.6L97.2 80.1L99.5 80.2L101.8 80.1L103.2 79.2L105.2 79.3L107.3 79.3L108.7 79.4L112.0 79.3L113.4 82.1L116.5 82.0L117.9 78.9L119.9 78.6L122.0 79.0L124.0 78.7L125.4 82.0L127.5 81.5L129.5 82.0M131.8 85.6L135.4 85.3M137.8 79.6L140.0 79.2L142.3 79.2L143.7 79.9L145.8 79.7L147.8 79.9L149.2 78.8L152.1 78.6L154.9 78.6L156.3 81.3L158.4 81.5L160.5 81.5L161.9 78.6L164.5 78.8L167.1 78.7L168.5 81.0L170.9 80.8L173.2 81.2M175.6 85.8L179.2 85.5M181.5 79.1L183.5 79.2L185.5 79.2L186.9 80.2L189.2 80.5L191.5 80.2L192.9 77.1L194.9 77.6L197.0 77.3L199.0 77.4L200.4 79.4L202.8 79.4L205.3 79.3L206.7 79.0L209.0 79.3L211.3 79.2L212.7 82.2L215.2 82.1L217.7 82.2L219.1 85.8L221.6 85.6L224.0 85.8L225.4 86.7L227.7 86.3L229.9 86.6M238.2 79.1L241.1 79.5L243.9 79.2L245.3 81.1L247.4 81.5L249.4 81.1M251.8 85.0L253.8 85.4L255.9 85.3L257.3 83.6L260.0 83.3L262.6 83.4L264.0 84.0L266.4 83.7L268.9 84.0M282.8 82.3L284.9 82.7L287.0 82.3L288.4 85.6L290.9 85.3L293.4 85.4M295.6 91.5L297.7 91.2L299.7 91.4L301.1 89.7L303.2 89.8L305.2 89.7M307.5 85.4L309.7 85.5L311.9 85.3L313.3 86.0L315.7 86.3L318.1 86.3L319.5 84.9L322.0 84.5L324.4 84.8L325.8 81.8L328.1 82.1L330.4 81.8L331.8 81.0L334.1 81.0L336.4 80.8L337.8 79.7L340.3 79.8L342.8 79.9L344.2 80.4L346.5 80.3L348.9 80.7M351.1 93.2L354.5 93.7M356.8 83.0L359.1 82.9L361.4 82.8M363.6 94.7L366.6 94.7M368.8 86.6L371.2 86.6L373.6 86.2M375.8 82.1L379.7 82.0M381.9 86.4L385.8 86.4M388.0 82.1L391.9 82.4M394.1 93.0L398.0 92.7M400.2 84.2L404.1 84.4M406.3 93.2L410.2 93.0M412.4 86.0L416.2 85.8M418.5 80.5L420.9 80.4L423.2 80.7M425.5 87.8L429.4 87.9M431.6 81.3L435.5 81.1M437.8 92.1L440.9 92.0M443.1 82.9L445.5 82.6L447.9 82.6M450.1 90.0L454.0 90.2M456.2 83.1L458.4 82.8L460.5 82.7L461.9 80.9L464.2 81.1L466.6 80.7L468.0 80.4L470.4 80.1L472.7 80.2L474.1 79.6L476.2 79.8L478.4 79.8M480.6 89.8L484.5 89.8M486.8 82.5L490.6 82.5M492.8 89.0L495.9 88.6M498.1 82.3L500.7 82.3L503.2 82.1L504.6 79.9L506.7 79.9L508.9 79.9M511.1 94.2L513.5 93.8L515.9 93.7M524.4 81.8L526.5 81.5L528.6 81.8L530.0 81.5L532.3 81.6L534.7 81.3L536.1 79.1L538.4 79.4L540.6 79.3L542.9 79.3L544.3 81.1L546.4 81.2L548.5 80.9L549.9 81.4L552.0 81.7L554.2 81.5L555.6 83.5L557.7 83.7L559.9 83.5M562.1 92.5L564.5 92.1L567.0 92.6M574.4 85.5L576.8 85.4L579.2 85.8M586.6 85.2L590.5 85.1M592.8 81.0L595.2 81.3L597.6 81.4M599.9 88.2L603.8 88.0M606.0 97.2L608.9 96.7M611.1 86.4L613.8 86.6L616.5 86.8L617.9 89.1L620.0 89.2L622.1 89.2M624.4 93.9L627.7 94.2L629.1 96.2L631.3 96.0L633.5 96.0M635.8 88.5L639.5 88.2L640.9 89.2L644.6 89.6" stroke="#49389f"/>
<path d="M91.4 86.8L93.6 86.7L95.8 86.8L97.2 86.1L99.5 86.5L101.8 85.9L103.2 86.9L105.2 86.6L107.3 86.8L108.7 86.8L112.0 86.8L113.4 88.1L116.5 88.0L117.9 85.9L119.9 86.1L122.0 86.0L124.0 85.9L125.4 88.2L127.5 88.1L129.5 88.0M131.8 92.3L135.4 92.6M137.8 86.0L140.0 86.1L142.3 86.3L143.7 87.3L145.8 87.5L147.8 87.3L149.2 86.2L152.1 86.2L154.9 86.0L156.3 88.9L158.4 88.5L160.5 88.6L161.9 85.2L164.5 85.7L167.1 85.6L168.5 88.6L170.9 88.3L173.2 88.4M175.6 92.3L179.2 92.5M181.5 87.1L183.5 86.7L185.5 86.5L186.9 86.9L189.2 87.0L191.5 87.3L192.9 85.0L194.9 84.8L197.0 84.6L199.0 84.6L200.4 85.1L202.8 85.5L205.3 85.3L206.7 87.3L209.0 87.3L211.3 87.2L212.7 88.6L215.0 88.8L217.2 88.4M219.6 92.0L221.8 92.3L224.0 92.2L225.4 92.8L227.7 92.8L229.9 92.7M238.2 86.9L241.1 86.7L243.9 86.9L245.3 88.3L247.4 88.0L249.4 88.1M251.8 92.5L253.8 92.8L255.9 92.8L257.3 89.6L260.0 89.5L262.6 89.6L264.0 91.4L266.4 91.3L268.9 91.1M282.8 89.4L286.6 89.3M288.8 93.1L291.1 92.9L293.4 93.4M295.6 97.9L297.7 97.6L299.7 97.7L301.1 96.3L303.2 96.5L305.2 96.3M307.5 92.0L309.7 91.8L311.9 91.8L313.3 91.6L315.7 91.3L318.1 91.1L319.5 92.2L322.0 91.9L324.4 92.0L325.8 88.8L328.1 88.9L330.4 89.0L331.8 88.0L334.1 87.8L336.4 87.6L337.8 86.2L340.3 85.8L342.8 86.0L344.2 86.4L346.5 86.5L348.9 86.5M351.1 98.5L354.5 98.8M356.8 90.6L359.1 90.5L361.4 90.3M363.6 101.7L366.6 101.5M368.8 92.8L371.2 92.9L373.6 93.4M375.8 87.8L379.7 87.9M381.9 93.8L385.8 93.9M388.0 88.4L391.9 88.5M394.1 98.9L398.0 98.9M400.2 90.4L404.1 90.3M406.3 98.6L410.2 98.6M412.4 91.9L416.2 92.3M418.5 86.8L420.9 87.0L423.2 87.2M425.5 93.2L429.4 93.4M431.6 88.2L435.5 88.1M437.8 96.9L440.9 97.3M443.1 89.4L445.5 90.0L447.9 89.8M450.1 96.6L454.0 96.9M456.2 89.6L458.4 89.8L460.5 89.5L461.9 88.7L464.2 88.8L466.6 88.8L468.0 86.0L470.4 86.5L472.7 86.3L474.1 86.3L476.2 86.2L478.4 86.2M480.6 96.6L484.5 96.7M486.8 89.2L490.6 89.2M492.8 95.5L495.9 95.4M498.1 89.6L500.7 89.4L503.2 89.8L504.6 86.7L506.7 87.2L508.9 87.2M511.1 100.5L513.5 100.3L515.9 100.7M524.4 87.0L526.5 87.1L528.6 86.9L530.0 88.0L532.3 87.8L534.7 87.7L536.1 85.8L538.4 86.2L540.6 86.3L542.9 86.3L544.3 87.7L546.4 87.8L548.5 87.8L549.9 87.8L552.0 87.4L554.2 87.7L555.6 90.4L557.7 90.3L559.9 89.8M562.1 97.0L564.5 97.0L567.0 97.3M574.4 91.7L576.8 91.6L579.2 91.6M586.6 91.5L588.8 91.6L590.9 91.6L592.3 88.3L595.0 88.2L597.6 88.2M599.9 94.6L603.8 94.6M606.0 102.6L608.9 102.2M611.1 92.7L613.8 92.8L616.5 92.5L617.9 96.1L620.0 95.7L622.1 96.2M624.4 99.6L627.7 99.7L629.1 102.2L631.3 102.2L633.5 102.2M635.8 94.8L639.5 94.7L640.9 95.3L644.6 95.6" stroke="#8a2394"/>
</g>
<g fill="none" stroke-width="4.0" stroke-linecap="round" stroke-linejoin="round">
<path d="M91.9 312.9L93.2 313.4L94.5 313.8L95.8 314.1L97.1 314.3L98.4 314.5L99.7 314.3L101.0 314.3L102.3 314.5L103.6 314.1L104.9 314.4L106.2 314.5L107.5 314.3L108.8 313.8L110.1 314.0L111.4 313.7L112.7 313.6L114.0 313.1L115.3 313.3L116.6 313.3L117.9 313.8L119.2 313.9L120.5 314.0L121.8 314.0L123.1 314.0L124.4 314.1L125.7 313.4L127.0 313.2L128.3 313.0L129.6 312.5L130.9 312.2L132.2 311.5L133.5 311.4L134.8 310.7L136.1 311.3L137.4 311.2L138.7 311.8L140.0 312.4L141.3 313.1L142.6 313.0L143.9 313.3L145.2 314.2L146.5 314.5L147.8 314.4L149.1 315.0L150.4 315.5L151.7 315.9L153.0 316.2L154.3 315.7L155.6 315.2L156.9 315.1L158.2 314.6L159.5 314.6L160.8 314.6L162.1 315.0L163.4 315.7L164.7 315.8L166.0 315.9L167.3 315.5L168.6 314.9L169.9 314.6L171.2 314.1L172.5 313.5L173.8 313.3L175.1 312.9L176.4 312.7L177.7 312.5L179.0 312.4L180.3 313.3L181.6 314.0L182.9 314.1L184.2 314.0L185.5 314.3L186.8 314.2L188.1 314.3L189.4 314.6L190.7 315.1L192.0 315.5L193.3 315.8L194.6 316.2L195.9 316.4L197.2 317.4L198.5 316.5L199.8 316.2L201.1 315.4L202.4 315.4L203.7 315.0L205.0 315.3L206.3 315.2L207.6 315.1L208.9 314.6L210.2 314.4L211.5 314.5L212.8 314.8L214.1 314.1L215.4 314.1L216.7 313.9L218.0 313.7L219.3 313.1L220.6 312.7L221.9 312.6L223.2 312.8L224.5 312.0L225.8 312.1L227.1 311.8L228.4 311.3L229.2 311.0M240.0 310.0L241.3 311.0L242.6 311.0L243.9 311.3L245.2 310.9L246.5 310.9L247.8 310.6L249.1 310.6L250.4 310.1L251.7 310.1L253.0 309.8L254.3 309.4L255.6 309.2L256.9 309.4L258.2 309.1L259.5 309.2L260.8 309.0L262.1 308.6L263.4 308.6L264.7 308.4L266.0 308.4L266.7 308.3M283.7 309.3L285.0 309.3L286.3 309.1L287.6 308.6L288.9 308.8L290.2 308.5L291.5 307.7L292.8 306.9L294.1 306.8L295.4 306.1L296.7 305.8L298.0 305.6L299.3 304.9L300.6 304.6L301.9 304.5L303.2 304.2L304.5 304.3L305.8 304.1L307.1 304.0L308.4 303.8L309.7 303.9L311.0 304.0L312.3 304.3L313.6 304.3L314.9 303.8L316.2 304.3L317.5 304.5L318.8 304.5L320.1 305.0L321.4 305.1L322.7 305.2L324.0 305.1L325.3 305.9L326.6 305.9L327.9 305.8L329.2 305.9L330.5 306.8L331.8 306.7L333.1 307.0L334.4 307.4L335.7 308.0L337.0 308.3L338.3 308.9L339.6 308.8L340.9 309.4L342.2 309.8L343.5 309.8L344.8 310.2L346.1 309.9L347.4 309.4L348.7 309.7L350.0 308.9L351.3 308.3L352.6 307.8L353.9 307.7L355.2 307.1L356.5 307.2L357.8 307.6L359.1 307.7L360.4 307.0L361.7 306.4L363.0 306.1L364.3 305.7L365.6 305.6L366.9 305.1L368.2 306.0L369.5 306.1L370.8 306.4L372.1 306.8L373.4 306.8L374.7 307.0L376.0 306.8L377.3 306.9L378.6 307.2L379.9 307.6L381.2 307.3L382.5 307.1L383.8 306.8L385.1 306.8L386.4 306.2L387.7 306.2L389.0 306.1L390.3 305.7L391.6 305.5L392.9 305.7L394.2 306.2L395.5 306.3L396.8 306.8L398.1 306.2L399.4 306.0L400.7 305.7L402.0 305.8L403.3 305.2L404.6 305.3L405.9 304.6L407.2 303.9L408.5 303.9L409.8 303.6L411.1 304.0L412.4 304.0L413.7 304.0L415.0 304.6L416.3 304.7L417.6 304.9L418.9 305.4L420.2 306.0L421.5 305.6L422.8 305.7L424.1 305.2L425.4 305.2L426.7 304.6L428.0 305.0L429.3 304.9L430.6 305.3L431.9 305.6L433.2 305.7L434.5 305.6L435.8 305.8L437.1 306.1L438.4 306.7L439.7 305.8L441.0 305.6L442.3 305.5L443.6 305.4L444.9 305.2L446.2 304.3L447.5 304.3L448.8 303.7L450.1 303.8L451.4 303.4L452.7 303.3L454.0 303.8L455.3 304.0L456.6 304.5L457.9 305.0L459.2 305.1L460.5 305.7L461.8 305.8L463.1 306.2L464.4 307.1L465.7 306.9L467.0 307.4L468.3 308.0L469.6 308.2L470.9 309.0L472.2 309.4L473.5 309.7L474.8 309.9L476.1 310.6L477.4 311.0L478.7 310.7L480.0 309.1L481.3 308.0L482.6 307.7L483.9 307.6L485.2 307.0L486.5 307.0L487.8 307.4L489.1 307.5L490.4 307.4L491.7 306.9L493.0 307.0L494.3 306.1L495.6 305.3L496.9 305.1L498.2 305.2L499.5 305.9L500.8 306.3L502.1 306.7L503.4 307.3L504.7 307.5L506.0 308.2L507.3 308.5L508.6 307.7L509.9 307.3L511.2 306.6L512.5 305.3L513.8 304.9L514.2 304.9M525.3 308.9L526.6 309.0L527.9 308.6L529.2 309.1L530.5 309.1L531.8 308.8L533.1 308.9L534.4 309.2L535.7 308.8L537.0 309.1L538.3 309.6L539.6 309.6L540.9 309.2L542.2 309.5L543.5 309.5L544.8 309.7L546.1 310.1L547.4 310.0L548.7 310.0L550.0 310.2L551.3 310.5L552.6 310.4L553.9 310.5L555.2 310.6L556.5 310.5L557.8 309.9L559.1 309.6L560.4 308.9L561.7 308.3L563.0 307.3L564.3 306.6L564.7 306.2M574.9 304.7L576.2 304.8L577.5 304.4L577.8 304.9M587.7 306.1L589.0 306.4L590.3 306.7L591.6 306.9L592.9 306.9L594.2 306.9L595.5 306.9L596.8 307.1L598.1 307.2L599.4 306.2L600.7 306.0L602.0 305.2L603.3 304.6L604.6 304.3L605.9 303.7L607.2 303.4L608.5 303.1L609.8 302.9L611.1 302.5L612.4 302.4L613.7 302.4L615.0 302.5L616.3 302.0L617.6 301.7L618.9 301.6L620.2 301.5L621.5 301.6L622.8 301.0L624.1 301.1L625.4 301.0L626.7 300.9L628.0 300.8L629.3 300.1L630.6 299.9L631.9 300.3L633.2 300.0L634.5 299.5L635.8 300.0L637.1 300.2L638.4 300.0L639.7 300.5L641.0 300.6L642.3 300.3L643.6 300.1L643.7 300.2" stroke="#e8177f"/>
<path d="M91.9 273.7L93.2 274.2L94.5 274.4L95.8 274.8L97.1 275.2L98.4 275.2L99.7 275.1L101.0 274.9L102.3 275.2L103.6 275.0L104.9 275.0L106.2 275.2L107.5 275.2L108.8 274.6L110.1 274.8L111.4 274.4L112.7 274.2L114.0 273.8L115.3 273.8L116.6 274.1L117.9 274.7L119.2 274.4L120.5 274.8L121.8 274.6L123.1 274.6L124.4 274.7L125.7 274.3L127.0 274.0L128.3 273.7L129.6 273.3L130.9 273.0L132.2 272.3L133.5 272.1L134.8 271.5L136.1 272.0L137.4 272.0L138.7 272.5L140.0 273.1L141.3 273.8L142.6 273.6L143.9 274.3L145.2 274.8L146.5 275.2L147.8 275.1L149.1 275.8L150.4 276.1L151.7 276.6L153.0 276.6L154.3 276.4L155.6 275.8L156.9 275.8L158.2 275.2L159.5 275.4L160.8 275.2L162.1 275.6L163.4 276.4L164.7 276.5L166.0 276.6L167.3 276.2L168.6 275.7L169.9 275.5L171.2 274.6L172.5 274.4L173.8 274.0L175.1 273.6L176.4 273.7L177.7 273.3L179.0 273.2L180.3 273.7L181.6 274.7L182.9 274.9L184.2 274.8L185.5 275.3L186.8 274.8L188.1 274.9L189.4 275.2L190.7 275.6L192.0 276.3L193.3 276.4L194.6 276.9L195.9 277.1L197.2 278.0L198.5 277.3L199.8 277.0L201.1 276.2L202.4 276.1L203.7 275.9L205.0 276.0L206.3 275.8L207.6 275.6L208.9 275.3L210.2 275.2L211.5 275.2L212.8 275.4L214.1 274.7L215.4 274.8L216.7 274.5L218.0 274.3L219.3 273.9L220.6 273.4L221.9 273.2L223.2 273.5L224.5 272.7L225.8 272.8L227.1 272.6L228.4 272.1L229.2 271.8M240.0 270.7L241.3 271.6L242.6 271.7L243.9 272.1L245.2 271.8L246.5 271.8L247.8 271.3L249.1 271.4L250.4 270.8L251.7 270.7L253.0 270.6L254.3 270.3L255.6 269.9L256.9 270.3L258.2 269.9L259.5 269.8L260.8 269.7L262.1 269.5L263.4 269.2L264.7 269.2L266.0 269.2L266.7 269.1M283.7 270.1L285.0 270.0L286.3 270.1L287.6 269.5L288.9 269.4L290.2 269.0L291.5 268.2L292.8 267.6L294.1 267.5L295.4 266.9L296.7 266.7L298.0 266.4L299.3 265.7L300.6 265.3L301.9 265.3L303.2 264.8L304.5 264.1L305.8 263.9L307.1 263.2L308.4 263.2L309.7 263.1L311.0 263.3L312.3 264.0L313.6 263.7L314.9 264.1L316.2 264.9L317.5 265.2L318.8 265.4L320.1 265.6L321.4 265.9L322.7 266.0L324.0 265.8L325.3 266.6L326.6 266.3L327.9 266.6L329.2 266.6L330.5 267.4L331.8 267.3L333.1 267.7L334.4 268.0L335.7 268.8L337.0 268.8L338.3 269.6L339.6 269.6L340.9 270.1L342.2 270.5L343.5 270.6L344.8 270.8L346.1 270.7L347.4 270.1L348.7 270.2L350.0 269.7L351.3 269.1L352.6 268.5L353.9 268.3L355.2 267.9L356.5 267.8L357.8 268.3L359.1 268.2L360.4 267.8L361.7 267.0L363.0 266.9L364.3 266.5L365.6 266.2L366.9 265.9L368.2 266.4L369.5 267.0L370.8 267.0L372.1 267.7L373.4 267.4L374.7 267.8L376.0 267.3L377.3 267.6L378.6 267.8L379.9 268.3L381.2 268.0L382.5 267.6L383.8 267.4L385.1 267.4L386.4 267.2L387.7 266.9L389.0 266.6L390.3 266.4L391.6 266.3L392.9 266.4L394.2 266.9L395.5 266.8L396.8 267.7L398.1 266.8L399.4 266.7L400.7 266.6L402.0 266.4L403.3 265.9L404.6 265.9L405.9 265.3L407.2 264.6L408.5 264.8L409.8 263.0L411.1 263.7L412.4 263.4L413.7 263.6L415.0 264.0L416.3 265.4L417.6 265.7L418.9 266.2L420.2 266.7L421.5 266.3L422.8 266.2L424.1 266.0L425.4 265.9L426.7 265.1L428.0 265.8L429.3 265.8L430.6 266.0L431.9 266.2L433.2 266.3L434.5 266.3L435.8 266.6L437.1 266.8L438.4 267.5L439.7 266.5L441.0 266.4L442.3 266.2L443.6 265.9L444.9 265.5L446.2 264.5L447.5 264.1L448.8 263.5L450.1 263.1L451.4 262.5L452.7 262.1L454.0 264.6L455.3 264.8L456.6 265.1L457.9 265.8L459.2 265.6L460.5 266.6L461.8 266.7L463.1 266.7L464.4 267.7L465.7 267.8L467.0 268.0L468.3 268.6L469.6 268.9L470.9 269.6L472.2 270.0L473.5 270.1L474.8 270.7L476.1 271.4L477.4 271.8L478.7 271.4L480.0 270.0L481.3 268.6L482.6 268.5L483.9 268.2L485.2 267.8L486.5 267.7L487.8 268.0L489.1 268.2L490.4 268.0L491.7 267.7L493.0 267.7L494.3 266.7L495.6 266.0L496.9 265.5L498.2 265.8L499.5 266.5L500.8 267.0L502.1 267.6L503.4 267.9L504.7 268.1L506.0 268.8L507.3 269.1L508.6 268.5L509.9 268.0L511.2 267.3L512.5 266.2L513.8 265.5L514.2 265.3M525.3 269.6L526.6 269.8L527.9 269.4L529.2 269.9L530.5 269.7L531.8 269.5L533.1 269.8L534.4 270.0L535.7 269.8L537.0 269.7L538.3 270.1L539.6 270.2L540.9 270.1L542.2 270.2L543.5 270.3L544.8 270.5L546.1 270.9L547.4 270.6L548.7 270.7L550.0 271.0L551.3 271.1L552.6 271.1L553.9 271.0L555.2 271.3L556.5 271.4L557.8 270.4L559.1 270.2L560.4 269.7L561.7 268.8L563.0 267.9L564.3 267.5L564.7 267.2M574.9 265.5L576.2 265.6L577.5 265.3L577.8 265.6M587.7 266.6L589.0 267.1L590.3 267.5L591.6 267.5L592.9 267.8L594.2 267.6L595.5 267.6L596.8 267.8L598.1 267.8L599.4 267.0L600.7 266.9L602.0 265.9L603.3 265.4L604.6 265.1L605.9 264.1L607.2 263.5L608.5 263.2L609.8 262.5L611.1 261.9L612.4 261.6L613.7 261.7L615.0 261.9L616.3 261.4L617.6 261.4L618.9 261.2L620.2 261.2L621.5 261.5L622.8 261.0L624.1 261.0L625.4 261.0L626.7 261.0L628.0 261.2L629.3 260.6L630.6 260.4L631.9 260.8L633.2 260.8L634.5 260.3L635.8 260.6L637.1 260.9L638.4 261.0L639.7 261.4L641.0 261.6L642.3 261.5L643.6 261.2L643.7 261.2" stroke="#ee3e42"/>
<path d="M91.9 233.9L93.2 234.5L94.5 234.5L95.8 234.9L97.1 235.3L98.4 235.2L99.7 235.3L101.0 235.3L102.3 235.4L103.6 235.0L104.9 235.0L106.2 235.3L107.5 235.4L108.8 234.9L110.1 234.7L111.4 234.6L112.7 234.3L114.0 234.1L115.3 234.1L116.6 234.0L117.9 234.9L119.2 234.8L120.5 235.0L121.8 234.7L123.1 234.9L124.4 234.9L125.7 234.5L127.0 234.1L128.3 234.0L129.6 233.3L130.9 233.1L132.2 232.4L133.5 232.2L134.8 231.6L136.1 232.2L137.4 232.3L138.7 232.7L140.0 233.2L141.3 234.1L142.6 233.8L143.9 234.3L145.2 235.0L146.5 235.5L147.8 235.3L149.1 235.8L150.4 236.4L151.7 236.9L153.0 237.1L154.3 236.6L155.6 236.2L156.9 235.9L158.2 235.4L159.5 235.7L160.8 235.6L162.1 235.9L163.4 236.5L164.7 236.7L166.0 236.7L167.3 236.3L168.6 235.8L169.9 235.5L171.2 234.8L172.5 234.6L173.8 234.3L175.1 233.9L176.4 233.9L177.7 233.2L179.0 233.5L180.3 234.1L181.6 234.6L182.9 235.0L184.2 234.8L185.5 235.4L186.8 235.2L188.1 235.2L189.4 235.6L190.7 235.9L192.0 236.5L193.3 236.5L194.6 237.4L195.9 237.4L197.2 238.2L198.5 237.3L199.8 237.3L201.1 236.3L202.4 236.4L203.7 235.8L205.0 236.3L206.3 236.1L207.6 235.8L208.9 235.5L210.2 235.3L211.5 235.1L212.8 235.4L214.1 234.9L215.4 235.2L216.7 235.0L218.0 234.5L219.3 234.1L220.6 233.8L221.9 233.5L223.2 233.6L224.5 233.2L225.8 233.0L227.1 232.8L228.4 232.3L229.2 232.0M240.0 230.8L241.3 231.8L242.6 231.9L243.9 232.3L245.2 231.8L246.5 231.9L247.8 231.3L249.1 231.5L250.4 231.1L251.7 231.0L253.0 230.8L254.3 230.5L255.6 230.2L256.9 230.5L258.2 230.0L259.5 230.0L260.8 230.1L262.1 229.7L263.4 229.5L264.7 229.3L266.0 229.5L266.7 229.3M283.7 230.2L285.0 230.0L286.3 230.1L287.6 229.6L288.9 229.7L290.2 229.2L291.5 228.5L292.8 227.8L294.1 227.6L295.4 227.0L296.7 226.7L298.0 226.5L299.3 225.8L300.6 225.5L301.9 225.4L303.2 225.1L304.5 225.2L305.8 225.1L307.1 224.8L308.4 224.8L309.7 225.0L311.0 224.9L312.3 225.1L313.6 225.0L314.9 224.7L316.2 225.2L317.5 225.5L318.8 225.6L320.1 225.9L321.4 226.1L322.7 226.1L324.0 225.9L325.3 226.6L326.6 226.7L327.9 226.8L329.2 227.0L330.5 227.6L331.8 227.5L333.1 227.8L334.4 228.3L335.7 229.1L337.0 229.2L338.3 229.8L339.6 229.7L340.9 230.4L342.2 230.7L343.5 230.9L344.8 231.0L346.1 230.8L347.4 230.3L348.7 230.6L350.0 229.9L351.3 229.1L352.6 228.7L353.9 228.6L355.2 228.0L356.5 227.9L357.8 228.5L359.1 228.4L360.4 227.7L361.7 227.4L363.0 226.9L364.3 226.7L365.6 226.5L366.9 226.0L368.2 226.6L369.5 227.1L370.8 227.3L372.1 227.6L373.4 227.5L374.7 228.0L376.0 227.6L377.3 227.8L378.6 228.0L379.9 228.5L381.2 227.9L382.5 228.0L383.8 227.7L385.1 227.6L386.4 227.2L387.7 227.1L389.0 227.1L390.3 226.5L391.6 226.5L392.9 226.5L394.2 227.0L395.5 226.9L396.8 227.7L398.1 227.2L399.4 227.0L400.7 226.7L402.0 226.6L403.3 226.1L404.6 226.1L405.9 225.5L407.2 224.9L408.5 225.0L409.8 224.3L411.1 225.2L412.4 224.8L413.7 225.0L415.0 225.4L416.3 225.5L417.6 225.9L418.9 226.1L420.2 226.9L421.5 226.6L422.8 226.4L424.1 226.1L425.4 226.1L426.7 225.6L428.0 225.8L429.3 225.8L430.6 226.1L431.9 226.4L433.2 226.7L434.5 226.6L435.8 226.8L437.1 226.9L438.4 227.6L439.7 226.7L441.0 226.4L442.3 226.5L443.6 226.1L444.9 226.2L446.2 225.1L447.5 225.1L448.8 224.7L450.1 224.5L451.4 224.2L452.7 224.0L454.0 224.7L455.3 225.0L456.6 225.4L457.9 225.8L459.2 225.9L460.5 226.7L461.8 226.9L463.1 226.9L464.4 227.9L465.7 227.9L467.0 228.2L468.3 228.9L469.6 229.0L470.9 230.0L472.2 230.2L473.5 230.4L474.8 231.0L476.1 231.6L477.4 231.9L478.7 231.4L480.0 230.2L481.3 228.8L482.6 228.4L483.9 228.4L485.2 228.0L486.5 227.8L487.8 228.1L489.1 228.5L490.4 228.2L491.7 227.9L493.0 227.9L494.3 226.9L495.6 226.1L496.9 225.7L498.2 226.2L499.5 226.7L500.8 227.2L502.1 227.8L503.4 228.1L504.7 228.3L506.0 229.0L507.3 229.4L508.6 228.5L509.9 228.1L511.2 227.3L512.5 226.2L513.8 225.9L514.2 225.7M525.3 229.9L526.6 229.8L527.9 229.6L529.2 230.0L530.5 229.9L531.8 229.8L533.1 229.9L534.4 230.1L535.7 229.9L537.0 229.9L538.3 230.5L539.6 230.4L540.9 230.2L542.2 230.4L543.5 230.4L544.8 230.6L546.1 230.9L547.4 230.8L548.7 230.8L550.0 231.0L551.3 231.3L552.6 231.3L553.9 231.3L555.2 231.5L556.5 231.5L557.8 230.6L559.1 230.4L560.4 230.0L561.7 229.1L563.0 228.3L564.3 227.6L564.7 227.2M574.9 225.7L576.2 225.8L577.5 225.5L577.8 225.7M587.7 227.0L589.0 227.1L590.3 227.8L591.6 227.9L592.9 227.9L594.2 227.8L595.5 228.0L596.8 228.0L598.1 228.2L599.4 227.1L600.7 226.8L602.0 226.3L603.3 225.6L604.6 225.4L605.9 224.7L607.2 224.3L608.5 224.2L609.8 223.7L611.1 223.6L612.4 223.1L613.7 223.2L615.0 223.3L616.3 222.8L617.6 222.6L618.9 222.5L620.2 222.3L621.5 222.5L622.8 221.9L624.1 221.9L625.4 221.9L626.7 222.0L628.0 221.9L629.3 221.2L630.6 220.9L631.9 221.2L633.2 220.9L634.5 220.6L635.8 220.9L637.1 221.1L638.4 221.0L639.7 221.2L641.0 221.6L642.3 221.2L643.6 221.0L643.7 221.1" stroke="#f3802c"/>
<path d="M91.9 328.7L93.2 329.4L94.5 329.5L95.8 330.0L97.1 330.2L98.4 330.1L99.7 330.2L101.0 330.1L102.3 330.4L103.6 330.1L104.9 330.0L106.2 330.4L107.5 330.2L108.8 329.6L110.1 329.6L111.4 329.6L112.7 329.3L114.0 329.0L115.3 329.0L116.6 328.9L117.9 329.8L119.2 329.7L120.5 330.0L121.8 329.7L123.1 329.6L124.4 329.8L125.7 329.4L127.0 329.2L128.3 328.8L129.6 328.3L130.9 328.0L132.2 327.5L133.5 327.2L134.8 326.6L136.1 327.1L137.4 327.0L138.7 327.7L140.0 328.2L141.3 329.0L142.6 328.7L143.9 329.2L145.2 329.9L146.5 330.4L147.8 330.3L149.1 330.8L150.4 331.2L151.7 331.6L153.0 331.7L154.3 331.7L155.6 331.0L156.9 330.9L158.2 330.5L159.5 330.6L160.8 330.5L162.1 330.6L163.4 331.5L164.7 331.4L166.0 331.6L167.3 331.3L168.6 330.8L169.9 330.5L171.2 329.8L172.5 329.5L173.8 329.2L175.1 328.7L176.4 328.6L177.7 328.2L179.0 328.3L180.3 328.8L181.6 329.6L182.9 330.0L184.2 329.8L185.5 330.2L186.8 329.9L188.1 330.1L189.4 330.3L190.7 330.8L192.0 331.3L193.3 331.5L194.6 332.1L195.9 332.4L197.2 333.1L198.5 332.5L199.8 332.0L201.1 331.0L202.4 331.3L203.7 330.8L205.0 331.1L206.3 330.9L207.6 330.9L208.9 330.4L210.2 330.3L211.5 330.1L212.8 330.4L214.1 329.9L215.4 330.0L216.7 329.7L218.0 329.4L219.3 329.0L220.6 328.7L221.9 328.2L223.2 328.5L224.5 328.0L225.8 327.8L227.1 327.7L228.4 327.3L229.2 326.8M240.0 325.7L241.3 326.6L242.6 326.7L243.9 327.1L245.2 326.7L246.5 326.7L247.8 326.2L249.1 326.5L250.4 326.0L251.7 325.9L253.0 325.8L254.3 325.2L255.6 325.1L256.9 325.2L258.2 324.9L259.5 324.7L260.8 325.0L262.1 324.6L263.4 324.5L264.7 324.2L266.0 324.1L266.7 324.3M283.7 325.2L285.0 325.1L286.3 325.0L287.6 324.4L288.9 324.4L290.2 324.3L291.5 323.3L292.8 322.7L294.1 322.5L295.4 322.0L296.7 321.8L298.0 321.4L299.3 320.5L300.6 320.3L301.9 320.5L303.2 320.1L304.5 320.1L305.8 320.0L307.1 319.7L308.4 319.7L309.7 319.7L311.0 319.9L312.3 320.3L313.6 319.8L314.9 319.7L316.2 320.1L317.5 320.5L318.8 320.3L320.1 320.7L321.4 321.0L322.7 321.2L324.0 320.9L325.3 321.5L326.6 321.5L327.9 321.7L329.2 321.9L330.5 322.5L331.8 322.5L333.1 322.8L334.4 323.2L335.7 323.7L337.0 324.0L338.3 324.5L339.6 324.7L340.9 325.2L342.2 325.5L343.5 325.7L344.8 326.0L346.1 325.9L347.4 325.2L348.7 325.4L350.0 324.8L351.3 323.9L352.6 323.6L353.9 323.3L355.2 323.1L356.5 322.7L357.8 323.4L359.1 323.3L360.4 322.7L361.7 322.1L363.0 321.8L364.3 321.6L365.6 321.3L366.9 321.0L368.2 321.6L369.5 322.2L370.8 322.2L372.1 322.6L373.4 322.4L374.7 323.0L376.0 322.5L377.3 322.7L378.6 323.0L379.9 323.5L381.2 323.1L382.5 322.8L383.8 322.4L385.1 322.4L386.4 322.1L387.7 322.0L389.0 321.8L390.3 321.5L391.6 321.4L392.9 321.3L394.2 321.8L395.5 322.0L396.8 322.6L398.1 322.1L399.4 322.0L400.7 321.6L402.0 321.6L403.3 321.1L404.6 320.9L405.9 320.4L407.2 320.0L408.5 319.7L409.8 319.3L411.1 320.0L412.4 319.6L413.7 319.9L415.0 320.2L416.3 320.3L417.6 320.9L418.9 321.0L420.2 321.7L421.5 321.3L422.8 321.3L424.1 320.8L425.4 320.9L426.7 320.2L428.0 320.7L429.3 320.7L430.6 320.9L431.9 321.3L433.2 321.4L434.5 321.5L435.8 321.6L437.1 321.7L438.4 322.4L439.7 321.8L441.0 321.3L442.3 321.4L443.6 320.9L444.9 321.1L446.2 320.1L447.5 320.0L448.8 319.7L450.1 319.5L451.4 319.1L452.7 319.1L454.0 319.7L455.3 319.9L456.6 320.3L457.9 320.7L459.2 320.7L460.5 321.5L461.8 321.6L463.1 321.9L464.4 322.8L465.7 322.7L467.0 323.1L468.3 323.5L469.6 324.1L470.9 324.8L472.2 325.1L473.5 325.2L474.8 325.8L476.1 326.4L477.4 326.9L478.7 326.3L480.0 325.0L481.3 323.9L482.6 323.4L483.9 323.4L485.2 323.0L486.5 322.9L487.8 323.1L489.1 323.2L490.4 323.2L491.7 322.9L493.0 322.6L494.3 322.0L495.6 321.0L496.9 320.8L498.2 321.0L499.5 321.4L500.8 322.3L502.1 322.6L503.4 323.1L504.7 323.2L506.0 323.8L507.3 324.2L508.6 323.5L509.9 322.8L511.2 322.4L512.5 321.1L513.8 320.7L514.2 320.6M525.3 324.8L526.6 324.6L527.9 324.4L529.2 325.1L530.5 324.9L531.8 324.6L533.1 324.7L534.4 325.2L535.7 324.8L537.0 325.0L538.3 325.3L539.6 325.4L540.9 325.1L542.2 325.3L543.5 325.5L544.8 325.8L546.1 325.9L547.4 325.8L548.7 325.8L550.0 326.1L551.3 326.1L552.6 326.2L553.9 326.3L555.2 326.5L556.5 326.5L557.8 325.7L559.1 325.2L560.4 324.9L561.7 324.0L563.0 323.0L564.3 322.5L564.7 322.2M574.9 320.5L576.2 320.7L577.5 320.4L577.8 320.6M587.7 321.7L589.0 322.1L590.3 322.5L591.6 322.6L592.9 322.6L594.2 322.6L595.5 322.9L596.8 322.9L598.1 323.1L599.4 322.0L600.7 322.0L602.0 321.0L603.3 320.4L604.6 320.2L605.9 319.4L607.2 319.1L608.5 319.0L609.8 318.6L611.1 318.4L612.4 318.0L613.7 318.1L615.0 318.3L616.3 317.7L617.6 317.5L618.9 317.3L620.2 317.2L621.5 317.5L622.8 316.9L624.1 316.8L625.4 316.6L626.7 316.7L628.0 316.8L629.3 315.9L630.6 315.9L631.9 316.2L633.2 315.7L634.5 315.5L635.8 315.5L637.1 316.0L638.4 316.1L639.7 316.3L641.0 316.4L642.3 316.2L643.6 315.7L643.7 315.9" stroke="#eba730"/>
<path d="M91.9 287.8L93.2 288.3L94.5 288.4L95.8 288.9L97.1 289.2L98.4 289.3L99.7 289.1L101.0 289.2L102.3 289.5L103.6 289.1L104.9 289.1L106.2 289.3L107.5 289.3L108.8 288.7L110.1 288.6L111.4 288.4L112.7 288.4L114.0 288.1L115.3 288.1L116.6 288.1L117.9 288.8L119.2 288.7L120.5 288.9L121.8 288.7L123.1 288.8L124.4 288.8L125.7 288.2L127.0 288.2L128.3 287.9L129.6 287.2L130.9 287.2L132.2 286.5L133.5 286.1L134.8 285.5L136.1 286.0L137.4 286.0L138.7 286.8L140.0 287.4L141.3 287.9L142.6 287.9L143.9 288.3L145.2 288.8L146.5 289.5L147.8 289.2L149.1 289.7L150.4 290.3L151.7 290.5L153.0 290.9L154.3 290.6L155.6 290.2L156.9 289.8L158.2 289.5L159.5 289.6L160.8 289.5L162.1 289.7L163.4 290.4L164.7 290.5L166.0 290.5L167.3 290.2L168.6 289.8L169.9 289.4L171.2 288.9L172.5 288.6L173.8 288.0L175.1 287.7L176.4 287.5L177.7 287.1L179.0 287.2L180.3 287.9L181.6 288.8L182.9 289.0L184.2 289.0L185.5 289.4L186.8 289.1L188.1 289.1L189.4 289.3L190.7 289.8L192.0 290.2L193.3 290.5L194.6 291.0L195.9 291.3L197.2 292.2L198.5 291.3L199.8 291.1L201.1 290.0L202.4 290.3L203.7 289.9L205.0 290.1L206.3 289.8L207.6 289.8L208.9 289.6L210.2 289.3L211.5 289.2L212.8 289.3L214.1 289.0L215.4 289.1L216.7 288.7L218.0 288.6L219.3 288.0L220.6 287.7L221.9 287.2L223.2 287.5L224.5 286.9L225.8 286.8L227.1 286.7L228.4 286.2L229.2 285.9M240.0 284.7L241.3 285.8L242.6 285.8L243.9 286.4L245.2 285.8L246.5 285.9L247.8 285.2L249.1 285.5L250.4 285.0L251.7 284.9L253.0 284.9L254.3 284.3L255.6 284.2L256.9 284.4L258.2 283.9L259.5 283.9L260.8 284.1L262.1 283.4L263.4 283.3L264.7 283.4L266.0 283.1L266.7 283.3M283.7 284.0L285.0 284.0L286.3 284.1L287.6 283.4L288.9 283.5L290.2 283.1L291.5 282.4L292.8 281.8L294.1 281.5L295.4 280.8L296.7 280.7L298.0 280.5L299.3 279.7L300.6 279.5L301.9 279.3L303.2 279.1L304.5 279.0L305.8 279.0L307.1 278.8L308.4 278.6L309.7 278.8L311.0 279.0L312.3 279.3L313.6 278.8L314.9 278.7L316.2 279.0L317.5 279.5L318.8 279.3L320.1 279.8L321.4 279.9L322.7 280.1L324.0 280.0L325.3 280.4L326.6 280.5L327.9 280.5L329.2 280.8L330.5 281.5L331.8 281.5L333.1 281.7L334.4 282.0L335.7 282.9L337.0 283.0L338.3 283.5L339.6 283.7L340.9 284.4L342.2 284.5L343.5 284.8L344.8 285.1L346.1 284.7L347.4 284.1L348.7 284.5L350.0 283.8L351.3 282.9L352.6 282.6L353.9 282.5L355.2 282.0L356.5 281.9L357.8 282.4L359.1 282.3L360.4 281.9L361.7 281.3L363.0 280.8L364.3 280.7L365.6 280.4L366.9 280.1L368.2 280.7L369.5 281.0L370.8 281.2L372.1 281.6L373.4 281.4L374.7 282.0L376.0 281.6L377.3 281.5L378.6 282.0L379.9 282.6L381.2 281.9L382.5 281.9L383.8 281.6L385.1 281.5L386.4 281.0L387.7 280.8L389.0 281.0L390.3 280.5L391.6 280.5L392.9 280.3L394.2 280.8L395.5 280.9L396.8 281.8L398.1 280.9L399.4 280.8L400.7 280.7L402.0 280.5L403.3 280.2L404.6 279.9L405.9 279.4L407.2 278.9L408.5 278.9L409.8 278.3L411.1 278.9L412.4 278.6L413.7 278.7L415.0 279.3L416.3 279.5L417.6 279.9L418.9 280.2L420.2 280.7L421.5 280.5L422.8 280.2L424.1 279.9L425.4 280.0L426.7 279.3L428.0 279.9L429.3 279.7L430.6 280.0L431.9 280.2L433.2 280.6L434.5 280.4L435.8 280.6L437.1 280.7L438.4 281.6L439.7 280.8L441.0 280.4L442.3 280.3L443.6 280.2L444.9 279.9L446.2 279.1L447.5 278.9L448.8 278.6L450.1 278.7L451.4 278.1L452.7 278.0L454.0 278.8L455.3 278.9L456.6 279.3L457.9 279.8L459.2 279.9L460.5 280.5L461.8 280.6L463.1 281.0L464.4 281.9L465.7 281.9L467.0 282.1L468.3 282.6L469.6 283.0L470.9 283.7L472.2 284.2L473.5 284.3L474.8 285.0L476.1 285.6L477.4 286.0L478.7 285.4L480.0 284.1L481.3 282.7L482.6 282.6L483.9 282.3L485.2 282.0L486.5 281.7L487.8 282.2L489.1 282.2L490.4 282.2L491.7 281.9L493.0 281.6L494.3 280.9L495.6 279.9L496.9 279.8L498.2 280.0L499.5 280.5L500.8 281.1L502.1 281.8L503.4 282.2L504.7 282.0L506.0 283.0L507.3 283.1L508.6 282.4L509.9 281.9L511.2 281.4L512.5 280.3L513.8 279.8L514.2 279.6M525.3 283.7L526.6 283.6L527.9 283.4L529.2 284.0L530.5 283.9L531.8 283.6L533.1 283.9L534.4 284.1L535.7 283.7L537.0 283.9L538.3 284.2L539.6 284.5L540.9 284.1L542.2 284.4L543.5 284.3L544.8 284.6L546.1 284.8L547.4 284.6L548.7 284.8L550.0 285.1L551.3 285.2L552.6 285.1L553.9 285.1L555.2 285.2L556.5 285.3L557.8 284.7L559.1 284.4L560.4 283.8L561.7 283.1L563.0 282.1L564.3 281.5L564.7 281.1M574.9 279.3L576.2 279.5L577.5 279.4L577.8 279.8M587.7 280.8L589.0 281.2L590.3 281.7L591.6 281.6L592.9 281.6L594.2 281.8L595.5 281.9L596.8 281.9L598.1 281.8L599.4 281.0L600.7 280.7L602.0 280.2L603.3 279.5L604.6 279.2L605.9 278.5L607.2 278.1L608.5 277.9L609.8 277.6L611.1 277.4L612.4 277.1L613.7 277.3L615.0 277.2L616.3 276.9L617.6 276.6L618.9 276.5L620.2 276.3L621.5 276.5L622.8 275.8L624.1 276.0L625.4 275.7L626.7 275.7L628.0 275.7L629.3 274.8L630.6 274.7L631.9 275.0L633.2 275.0L634.5 274.2L635.8 274.6L637.1 275.0L638.4 275.1L639.7 275.3L641.0 275.3L642.3 275.0L643.6 274.9L643.7 274.8" stroke="#dcd42a"/>
<path d="M91.9 219.2L93.2 219.5L94.5 220.0L95.8 220.5L97.1 221.2L98.4 221.8L99.7 221.3L101.0 222.0L102.3 221.4L103.6 221.6L104.9 220.8L106.2 221.1L107.5 220.8L108.8 220.7L110.1 220.4L111.4 219.7L112.7 223.9L114.0 223.6L115.3 223.6L116.6 223.6L117.9 224.3L119.2 220.2L120.5 222.1L121.8 221.8L123.1 221.1L124.4 221.0L125.7 220.8L127.0 221.0L128.3 220.8L129.6 222.9L130.9 222.7L132.2 222.0L133.5 221.8L134.8 221.2L136.1 221.6L137.4 221.7L138.7 219.8L140.0 220.1L141.3 220.6L142.6 219.9L143.9 220.3L145.2 221.3L146.5 221.9L147.8 221.4L149.1 222.3L150.4 222.3L151.7 223.1L153.0 222.9L154.3 222.2L155.6 225.7L156.9 225.4L158.2 225.0L159.5 225.1L160.8 225.1L162.1 222.1L163.4 223.1L164.7 223.5L166.0 223.6L167.3 223.0L168.6 223.2L169.9 223.4L171.2 222.1L172.5 221.4L173.8 223.7L175.1 223.4L176.4 223.3L177.7 222.9L179.0 222.9L180.3 223.5L181.6 221.3L182.9 220.9L184.2 221.5L185.5 221.6L186.8 221.0L188.1 220.7L189.4 220.9L190.7 220.9L192.0 221.1L193.3 221.1L194.6 222.0L195.9 222.3L197.2 223.1L198.5 222.4L199.8 222.7L201.1 222.1L202.4 222.1L203.7 222.3L205.0 223.0L206.3 223.0L207.6 222.8L208.9 222.2L210.2 221.5L211.5 222.0L212.8 222.5L214.1 221.4L215.4 222.1L216.7 222.4L218.0 221.5L219.3 221.2L220.6 220.5L221.9 220.2L223.2 220.9L224.5 220.1L225.8 220.1L227.1 220.0L228.4 219.2L229.2 219.1M240.0 213.8L241.3 215.4L242.6 215.0L243.9 218.9L245.2 217.8L246.5 221.4L247.8 220.9L249.1 221.1L250.4 220.6L251.7 220.5L253.0 220.3L254.3 219.9L255.6 219.8L256.9 219.9L258.2 219.5L259.5 219.5L260.8 219.5L262.1 219.1L263.4 219.0L264.7 218.9L266.0 218.9L266.7 218.8M283.7 218.7L285.0 218.8L286.3 219.2L287.6 218.3L288.9 218.4L290.2 218.3L291.5 217.2L292.8 216.9L294.1 216.8L295.4 216.3L296.7 216.1L298.0 215.5L299.3 215.0L300.6 214.4L301.9 214.6L303.2 214.5L304.5 214.2L305.8 214.3L307.1 213.8L308.4 214.0L309.7 213.7L311.0 214.1L312.3 214.2L313.6 214.2L314.9 213.9L316.2 214.4L317.5 214.6L318.8 214.6L320.1 214.5L321.4 214.7L322.7 214.5L324.0 214.6L325.3 215.4L326.6 215.3L327.9 215.7L329.2 216.3L330.5 217.3L331.8 216.8L333.1 217.1L334.4 217.6L335.7 218.4L337.0 218.1L338.3 219.0L339.6 218.9L340.9 219.6L342.2 220.1L343.5 219.9L344.8 219.9L346.1 219.9L347.4 219.2L348.7 218.9L350.0 218.0L351.3 217.8L352.6 217.4L353.9 217.0L355.2 216.3L356.5 216.5L357.8 217.1L359.1 217.2L360.4 216.3L361.7 215.6L363.0 215.7L364.3 215.1L365.6 214.8L366.9 214.1L368.2 215.1L369.5 215.2L370.8 215.8L372.1 216.4L373.4 216.5L374.7 216.5L376.0 216.3L377.3 216.4L378.6 216.6L379.9 217.0L381.2 216.5L382.5 216.6L383.8 216.0L385.1 216.3L386.4 215.8L387.7 215.3L389.0 215.2L390.3 214.8L391.6 214.8L392.9 214.9L394.2 215.7L395.5 215.7L396.8 216.4L398.1 216.1L399.4 215.8L400.7 215.1L402.0 215.0L403.3 214.4L404.6 214.0L405.9 213.4L407.2 212.5L408.5 212.8L409.8 212.4L411.1 213.3L412.4 213.3L413.7 213.5L415.0 214.3L416.3 214.1L417.6 214.7L418.9 214.8L420.2 215.4L421.5 215.2L422.8 215.3L424.1 214.6L425.4 214.6L426.7 214.1L428.0 214.8L429.3 215.1L430.6 215.1L431.9 215.0L433.2 215.0L434.5 215.0L435.8 215.5L437.1 215.7L438.4 216.6L439.7 215.8L441.0 215.5L442.3 215.7L443.6 215.5L444.9 215.4L446.2 214.7L447.5 214.4L448.8 214.2L450.1 214.1L451.4 213.4L452.7 213.1L454.0 213.7L455.3 213.8L456.6 214.3L457.9 214.6L459.2 214.5L460.5 215.2L461.8 215.3L463.1 215.8L464.4 216.4L465.7 216.0L467.0 216.5L468.3 217.0L469.6 217.4L470.9 218.2L472.2 218.5L473.5 218.5L474.8 218.7L476.1 219.6L477.4 220.4L478.7 219.7L480.0 218.4L481.3 217.0L482.6 216.4L483.9 216.6L485.2 216.4L486.5 216.1L487.8 216.2L489.1 216.7L490.4 216.7L491.7 216.4L493.0 216.2L494.3 215.2L495.6 214.6L496.9 214.6L498.2 215.1L499.5 215.3L500.8 216.0L502.1 216.8L503.4 217.4L504.7 217.4L506.0 217.8L507.3 217.7L508.6 217.2L509.9 216.3L511.2 216.0L512.5 215.0L513.8 214.4L514.2 214.6M525.3 217.8L526.6 217.9L527.9 217.0L529.2 217.5L530.5 217.3L531.8 216.7L533.1 217.3L534.4 218.0L535.7 217.0L537.0 216.8L538.3 217.0L539.6 217.1L540.9 216.6L542.2 216.9L543.5 217.2L544.8 217.1L546.1 217.6L547.4 217.2L548.7 218.0L550.0 218.8L551.3 218.6L552.6 218.7L553.9 218.2L555.2 218.2L556.5 218.4L557.8 217.8L559.1 217.2L560.4 216.1L561.7 214.8L563.0 214.1L564.3 213.1L564.7 212.6M574.9 211.1L576.2 211.9L577.5 211.7L577.8 211.8M587.7 213.0L589.0 213.1L590.3 214.0L591.6 213.6L592.9 213.5L594.2 213.4L595.5 214.2L596.8 213.9L598.1 213.5L599.4 212.2L600.7 211.7L602.0 210.9L603.3 210.3L604.6 210.5L605.9 209.8L607.2 209.5L608.5 209.3L609.8 209.5L611.1 209.7L612.4 209.4L613.7 210.1L615.0 209.8L616.3 210.0L617.6 209.8L618.9 209.9L620.2 209.6L621.5 209.4L622.8 209.2L624.1 209.2L625.4 209.2L626.7 209.2L628.0 209.2L629.3 209.2L630.6 209.2L631.9 209.2L633.2 209.2L634.5 209.2L635.8 209.2L637.1 209.2L638.4 209.2L639.7 209.2L641.0 209.2M626.3 344.9L627.8 344.8L629.3 344.7L630.8 344.8L632.3 344.8L633.8 344.8L635.3 345.1L636.8 345.1L638.3 345.0L639.8 345.1L641.3 345.0L642.8 344.7L644.3 344.6L645.8 344.7" stroke="#e6e690"/>
<path d="M91.9 343.8L93.2 344.7L94.5 345.4L95.8 345.4L97.1 345.4M98.4 208.3h0.01M99.7 345.4L101.0 345.4L102.3 345.4L103.6 344.7L104.9 345.4L106.2 345.3M107.5 209.3L108.8 207.6L110.1 208.5L111.4 207.8M112.7 345.3L114.0 344.1L115.3 343.8L116.6 344.0L117.9 345.4L119.2 345.4M120.5 208.7L121.8 208.5L123.1 207.9L124.4 208.0M125.7 344.1L127.0 345.3L128.3 343.5L129.6 343.9L130.9 343.3L132.2 342.3L133.5 342.5L134.8 342.7L136.1 342.0L137.4 341.9L138.7 343.3L140.0 343.9L141.3 344.3L142.6 343.7L143.9 345.3L145.2 344.7M146.5 208.4L147.8 208.4L149.1 209.3L150.4 209.8L151.7 210.2L153.0 210.8L154.3 210.8L155.6 209.5L156.9 208.6L158.2 209.5L159.5 208.3L160.8 208.7L162.1 208.7L163.4 210.1L164.7 210.5L166.0 209.4L167.3 209.4L168.6 209.8L169.9 209.3L171.2 207.7L172.5 208.2M173.8 345.0L175.1 344.0L176.4 343.5L177.7 343.9L179.0 343.4L180.3 343.8M181.6 207.6L182.9 208.3L184.2 207.8L185.5 208.6M186.8 345.4L188.1 345.4L189.4 345.4L190.7 345.4L192.0 345.4L193.3 345.4M194.6 211.3L195.9 211.4L197.2 212.4M198.5 345.4L199.8 345.4L201.1 345.4L202.4 345.4L203.7 345.4L205.0 345.4M206.3 208.8L207.6 209.9L208.9 208.7L210.2 208.5L211.5 208.7L212.8 208.3L214.1 208.7M215.4 345.4L216.7 345.4L218.0 345.4L219.3 344.0L220.6 343.4L221.9 344.1L223.2 344.2L224.5 343.1L225.8 343.0L227.1 342.5L228.4 343.1L229.2 342.3M240.0 341.6L241.3 341.9L242.6 341.9L243.9 342.7L245.2 342.5L246.5 342.8L247.8 341.5L249.1 342.2L250.4 341.2L251.7 341.8L253.0 341.6L254.3 340.8L255.6 340.4L256.9 340.4L258.2 340.9L259.5 340.7L260.8 340.0L262.1 339.2L263.4 339.3L264.7 340.4L266.0 338.9L266.7 340.1M283.7 340.6L285.0 340.4L286.3 340.5L287.6 339.7L288.9 340.0L290.2 338.9L291.5 339.4L292.8 337.5L294.1 337.3L295.4 337.6L296.7 337.3L298.0 337.3L299.3 336.3L300.6 336.4L301.9 335.1L303.2 334.7L304.5 335.0L305.8 335.8L307.1 334.5L308.4 335.1L309.7 335.7L311.0 334.7L312.3 335.6L313.6 336.0L314.9 335.5L316.2 335.2L317.5 335.7L318.8 335.4L320.1 336.8L321.4 336.8L322.7 336.8L324.0 336.0L325.3 337.3L326.6 336.9L327.9 337.5L329.2 337.0L330.5 338.6L331.8 338.2L333.1 338.0L334.4 338.6L335.7 339.7L337.0 339.4L338.3 340.7L339.6 339.3L340.9 341.3L342.2 341.3L343.5 341.0L344.8 342.0L346.1 340.6L347.4 340.4L348.7 341.1L350.0 340.6L351.3 339.3L352.6 339.7L353.9 339.0L355.2 337.6L356.5 337.6L357.8 338.0L359.1 338.8L360.4 337.9L361.7 337.2L363.0 337.2L364.3 336.3L365.6 337.4L366.9 336.9L368.2 337.1L369.5 337.3L370.8 337.3L372.1 338.2L373.4 337.6L374.7 339.0L376.0 338.7L377.3 338.4L378.6 338.8L379.9 338.2L381.2 337.8L382.5 338.0L383.8 337.4L385.1 337.9L386.4 338.3L387.7 337.8L389.0 338.0L390.3 336.4L391.6 336.3L392.9 336.0L394.2 337.0L395.5 336.6L396.8 338.1L398.1 337.1L399.4 337.6L400.7 337.1L402.0 337.2L403.3 336.2L404.6 336.8L405.9 336.1L407.2 335.6L408.5 335.1L409.8 334.6L411.1 335.0L412.4 334.4L413.7 335.1L415.0 335.9L416.3 335.3L417.6 336.8L418.9 337.1L420.2 337.7L421.5 337.3L422.8 336.7L424.1 335.8L425.4 336.1L426.7 336.1L428.0 337.0L429.3 335.6L430.6 335.6L431.9 336.4L433.2 336.7L434.5 336.9L435.8 336.4L437.1 337.7L438.4 337.6L439.7 337.8L441.0 336.5L442.3 336.4L443.6 335.9L444.9 337.1L446.2 335.7L447.5 335.9L448.8 334.3L450.1 335.0L451.4 335.0L452.7 335.2L454.0 335.7L455.3 334.6L456.6 335.5L457.9 336.9L459.2 336.2L460.5 337.7L461.8 336.7L463.1 336.6L464.4 338.9L465.7 337.8L467.0 338.6L468.3 338.8L469.6 339.6L470.9 340.9L472.2 341.3L473.5 341.3L474.8 340.8L476.1 342.4L477.4 341.5L478.7 341.7L480.0 341.1L481.3 338.8L482.6 338.6L483.9 338.8L485.2 337.9L486.5 338.4L487.8 338.7L489.1 338.0L490.4 339.2L491.7 337.5L493.0 338.4L494.3 337.0L495.6 335.8L496.9 335.5L498.2 337.2L499.5 337.4L500.8 337.5L502.1 338.6L503.4 339.3L504.7 339.2L506.0 339.3L507.3 339.2L508.6 338.9L509.9 339.1L511.2 338.1L512.5 336.9L513.8 336.7L514.2 335.8M525.3 340.2L526.6 340.7L527.9 339.4L529.2 340.9L530.5 339.5L531.8 340.1L533.1 340.3L534.4 339.9L535.7 340.8L537.0 340.2L538.3 340.2L539.6 340.6L540.9 340.6L542.2 340.7L543.5 339.9L544.8 340.4L546.1 341.6L547.4 340.5L548.7 340.9L550.0 341.9L551.3 342.2L552.6 342.2L553.9 341.1L555.2 341.0L556.5 342.2L557.8 341.2L559.1 340.5L560.4 339.5L561.7 339.3L563.0 338.1L564.3 338.0L564.7 338.3M574.9 335.4L576.2 335.3L577.5 336.0L577.8 335.5M587.7 336.8L589.0 337.4L590.3 338.8L591.6 337.7L592.9 337.9L594.2 338.1L595.5 337.7L596.8 338.2L598.1 338.7L599.4 337.2L600.7 337.7L602.0 336.0L603.3 335.3L604.6 335.8L605.9 334.8L607.2 335.2L608.5 333.8L609.8 334.5L611.1 334.0L612.4 333.3L613.7 333.0L615.0 333.8L616.3 333.6L617.6 332.9L618.9 332.8L620.2 333.1L621.5 333.0L622.8 332.2L624.1 331.7L625.4 332.0L626.7 332.2L628.0 332.7L629.3 332.1L630.6 331.3L631.9 331.2L633.2 330.8L634.5 331.0L635.8 331.4L637.1 330.9L638.4 331.7L639.7 332.4L641.0 331.6L642.3 332.2L643.6 331.2L643.7 331.5M146.8 345.1L148 345.3M158.6 345.3L160.2 345.2M477.6 208.9h0.01" stroke="#74c45a"/>
<path d="M91.9 303.5L93.2 303.8L94.5 304.1L95.8 304.6L97.1 304.7L98.4 304.7L99.7 304.6L101.0 304.8L102.3 305.0L103.6 304.8L104.9 304.7L106.2 304.8L107.5 304.7L108.8 304.2L110.1 304.3L111.4 303.9L112.7 303.9L114.0 303.6L115.3 303.5L116.6 303.7L117.9 304.3L119.2 304.4L120.5 304.5L121.8 304.3L123.1 304.3L124.4 304.4L125.7 304.0L127.0 303.6L128.3 303.3L129.6 302.9L130.9 302.8L132.2 302.0L133.5 301.7L134.8 301.2L136.1 301.7L137.4 301.8L138.7 302.1L140.0 302.9L141.3 303.5L142.6 303.4L143.9 303.8L145.2 304.5L146.5 305.1L147.8 305.0L149.1 305.5L150.4 306.0L151.7 306.3L153.0 306.4L154.3 306.1L155.6 305.8L156.9 305.5L158.2 305.1L159.5 305.1L160.8 305.0L162.1 305.5L163.4 306.0L164.7 306.0L166.0 306.1L167.3 305.7L168.6 305.2L169.9 305.2L171.2 304.6L172.5 304.1L173.8 303.6L175.1 303.4L176.4 303.2L177.7 302.9L179.0 303.0L180.3 303.6L181.6 304.3L182.9 304.4L184.2 304.3L185.5 304.7L186.8 304.7L188.1 304.8L189.4 305.0L190.7 305.3L192.0 306.0L193.3 306.0L194.6 306.7L195.9 306.7L197.2 307.9L198.5 306.9L199.8 306.8L201.1 305.8L202.4 305.9L203.7 305.6L205.0 305.8L206.3 305.7L207.6 305.5L208.9 304.9L210.2 304.9L211.5 304.7L212.8 305.0L214.1 304.4L215.4 304.8L216.7 304.2L218.0 304.1L219.3 303.4L220.6 303.4L221.9 302.9L223.2 303.2L224.5 302.6L225.8 302.6L227.1 302.2L228.4 301.8L229.2 301.6M240.0 300.4L241.3 301.4L242.6 301.4L243.9 301.9L245.2 301.4L246.5 301.4L247.8 300.9L249.1 301.1L250.4 300.5L251.7 300.3L253.0 300.3L254.3 299.8L255.6 299.6L256.9 300.0L258.2 299.6L259.5 299.5L260.8 299.5L262.1 299.2L263.4 299.1L264.7 298.9L266.0 298.8L266.7 298.8M283.7 299.8L285.0 299.5L286.3 299.5L287.6 299.1L288.9 299.2L290.2 298.9L291.5 297.8L292.8 297.3L294.1 297.1L295.4 296.4L296.7 296.2L298.0 296.0L299.3 295.2L300.6 295.1L301.9 295.0L303.2 294.7L304.5 294.6L305.8 294.7L307.1 294.2L308.4 294.1L309.7 294.6L311.0 294.6L312.3 294.6L313.6 294.4L314.9 294.3L316.2 294.6L317.5 294.9L318.8 294.9L320.1 295.3L321.4 295.4L322.7 295.6L324.0 295.4L325.3 296.1L326.6 296.0L327.9 296.1L329.2 296.4L330.5 297.1L331.8 297.1L333.1 297.3L334.4 297.7L335.7 298.3L337.0 298.7L338.3 299.3L339.6 299.2L340.9 299.7L342.2 300.1L343.5 300.4L344.8 300.6L346.1 300.3L347.4 299.9L348.7 300.1L350.0 299.2L351.3 298.7L352.6 298.1L353.9 297.9L355.2 297.5L356.5 297.5L357.8 297.9L359.1 298.0L360.4 297.4L361.7 296.7L363.0 296.3L364.3 296.1L365.6 296.1L366.9 295.7L368.2 296.4L369.5 296.5L370.8 296.9L372.1 297.1L373.4 297.0L374.7 297.4L376.0 297.2L377.3 297.3L378.6 297.6L379.9 298.1L381.2 297.7L382.5 297.4L383.8 297.2L385.1 297.2L386.4 296.7L387.7 296.4L389.0 296.4L390.3 296.2L391.6 295.9L392.9 295.9L394.2 296.5L395.5 296.6L396.8 297.3L398.1 296.6L399.4 296.6L400.7 296.3L402.0 296.1L403.3 295.7L404.6 295.5L405.9 295.0L407.2 294.3L408.5 294.3L409.8 293.9L411.1 294.6L412.4 294.4L413.7 294.3L415.0 294.9L416.3 295.0L417.6 295.4L418.9 295.6L420.2 296.2L421.5 296.0L422.8 296.0L424.1 295.4L425.4 295.7L426.7 294.8L428.0 295.4L429.3 295.4L430.6 295.6L431.9 296.0L433.2 296.1L434.5 296.0L435.8 296.3L437.1 296.5L438.4 297.2L439.7 296.4L441.0 296.0L442.3 296.0L443.6 295.7L444.9 295.7L446.2 294.9L447.5 294.6L448.8 294.2L450.1 294.2L451.4 293.8L452.7 293.5L454.0 294.3L455.3 294.4L456.6 295.0L457.9 295.3L459.2 295.3L460.5 296.2L461.8 296.4L463.1 296.7L464.4 297.6L465.7 297.4L467.0 297.6L468.3 298.3L469.6 298.6L470.9 299.5L472.2 299.8L473.5 299.9L474.8 300.3L476.1 301.0L477.4 301.5L478.7 300.9L480.0 299.5L481.3 298.4L482.6 297.9L483.9 297.8L485.2 297.5L486.5 297.3L487.8 297.6L489.1 297.9L490.4 297.7L491.7 297.3L493.0 297.1L494.3 296.5L495.6 295.7L496.9 295.3L498.2 295.6L499.5 296.1L500.8 296.8L502.1 297.3L503.4 297.8L504.7 297.6L506.0 298.4L507.3 298.7L508.6 298.0L509.9 297.5L511.2 296.9L512.5 296.0L513.8 295.3L514.2 295.2M525.3 299.5L526.6 299.4L527.9 299.1L529.2 299.7L530.5 299.5L531.8 299.1L533.1 299.5L534.4 299.7L535.7 299.4L537.0 299.4L538.3 300.0L539.6 299.9L540.9 299.7L542.2 299.9L543.5 300.0L544.8 300.2L546.1 300.4L547.4 300.4L548.7 300.4L550.0 300.5L551.3 300.8L552.6 300.9L553.9 300.7L555.2 300.9L556.5 301.0L557.8 300.1L559.1 299.8L560.4 299.5L561.7 298.6L563.0 297.8L564.3 297.0L564.7 296.8M574.9 295.0L576.2 295.3L577.5 294.9L577.8 295.4M587.7 296.4L589.0 296.6L590.3 297.1L591.6 297.2L592.9 297.2L594.2 297.2L595.5 297.5L596.8 297.6L598.1 297.7L599.4 296.5L600.7 296.5L602.0 295.7L603.3 295.0L604.6 294.8L605.9 294.2L607.2 293.8L608.5 293.6L609.8 293.3L611.1 293.0L612.4 292.8L613.7 292.9L615.0 292.7L616.3 292.5L617.6 292.1L618.9 291.9L620.2 291.9L621.5 292.1L622.8 291.5L624.1 291.4L625.4 291.3L626.7 291.2L628.0 291.3L629.3 290.5L630.6 290.3L631.9 290.7L633.2 290.6L634.5 290.1L635.8 290.4L637.1 290.4L638.4 290.6L639.7 290.8L641.0 290.9L642.3 290.8L643.6 290.6L643.7 290.4" stroke="#2fb350"/>
<path d="M91.9 263.1L93.2 263.7L94.5 263.9L95.8 264.2L97.1 264.4L98.4 264.5L99.7 264.3L101.0 264.5L102.3 264.5L103.6 264.3L104.9 264.5L106.2 264.5L107.5 264.5L108.8 263.9L110.1 264.1L111.4 263.8L112.7 263.7L114.0 263.2L115.3 263.4L116.6 263.3L117.9 263.8L119.2 263.8L120.5 264.1L121.8 264.0L123.1 264.2L124.4 264.1L125.7 263.7L127.0 263.3L128.3 263.1L129.6 262.6L130.9 262.3L132.2 261.7L133.5 261.5L134.8 260.9L136.1 261.4L137.4 261.4L138.7 261.8L140.0 262.4L141.3 263.1L142.6 263.0L143.9 263.6L145.2 264.3L146.5 264.8L147.8 264.7L149.1 265.0L150.4 265.7L151.7 266.0L153.0 266.2L154.3 266.1L155.6 265.4L156.9 265.0L158.2 264.7L159.5 264.7L160.8 264.8L162.1 265.1L163.4 265.8L164.7 265.7L166.0 265.7L167.3 265.6L168.6 265.0L169.9 264.7L171.2 264.3L172.5 263.6L173.8 263.5L175.1 263.2L176.4 263.0L177.7 262.6L179.0 262.4L180.3 263.3L181.6 264.0L182.9 264.3L184.2 264.2L185.5 264.4L186.8 264.3L188.1 264.5L189.4 264.6L190.7 265.0L192.0 265.5L193.3 265.9L194.6 266.4L195.9 266.6L197.2 267.6L198.5 266.7L199.8 266.3L201.1 265.4L202.4 265.6L203.7 265.1L205.0 265.4L206.3 265.3L207.6 265.2L208.9 264.8L210.2 264.4L211.5 264.5L212.8 264.7L214.1 264.2L215.4 264.4L216.7 263.9L218.0 263.8L219.3 263.2L220.6 262.9L221.9 262.7L223.2 262.8L224.5 262.3L225.8 262.1L227.1 261.8L228.4 261.5L229.2 261.3M240.0 259.9L241.3 261.1L242.6 261.1L243.9 261.5L245.2 261.0L246.5 261.2L247.8 260.7L249.1 260.9L250.4 260.2L251.7 260.0L253.0 260.1L254.3 259.5L255.6 259.6L256.9 259.7L258.2 259.2L259.5 259.1L260.8 259.3L262.1 258.7L263.4 258.6L264.7 258.7L266.0 258.6L266.7 258.5M283.7 259.4L285.0 259.2L286.3 259.3L287.6 258.6L288.9 258.9L290.2 258.5L291.5 257.8L292.8 257.1L294.1 256.9L295.4 256.2L296.7 256.0L298.0 255.6L299.3 254.9L300.6 254.8L301.9 254.7L303.2 254.3L304.5 254.3L305.8 254.2L307.1 254.0L308.4 254.0L309.7 254.1L311.0 254.3L312.3 254.5L313.6 254.1L314.9 253.9L316.2 254.3L317.5 254.7L318.8 254.8L320.1 255.0L321.4 255.1L322.7 255.4L324.0 255.3L325.3 255.9L326.6 255.7L327.9 255.8L329.2 256.3L330.5 256.9L331.8 256.7L333.1 257.1L334.4 257.5L335.7 258.2L337.0 258.3L338.3 259.0L339.6 258.8L340.9 259.6L342.2 260.0L343.5 259.9L344.8 260.2L346.1 260.2L347.4 259.6L348.7 259.5L350.0 258.8L351.3 258.4L352.6 257.9L353.9 257.7L355.2 257.3L356.5 257.0L357.8 257.6L359.1 257.5L360.4 257.0L361.7 256.3L363.0 256.1L364.3 255.8L365.6 255.7L366.9 255.3L368.2 256.1L369.5 256.4L370.8 256.4L372.1 257.0L373.4 256.8L374.7 257.3L376.0 256.8L377.3 256.8L378.6 257.3L379.9 257.7L381.2 257.4L382.5 257.2L383.8 257.0L385.1 256.9L386.4 256.4L387.7 256.2L389.0 256.2L390.3 255.8L391.6 255.6L392.9 255.7L394.2 256.3L395.5 256.2L396.8 256.9L398.1 256.3L399.4 256.2L400.7 255.8L402.0 255.9L403.3 255.6L404.6 255.3L405.9 254.8L407.2 254.1L408.5 254.0L409.8 253.6L411.1 254.3L412.4 254.1L413.7 254.0L415.0 254.7L416.3 254.7L417.6 255.1L418.9 255.5L420.2 256.0L421.5 255.6L422.8 255.7L424.1 255.1L425.4 255.3L426.7 254.7L428.0 255.1L429.3 255.1L430.6 255.4L431.9 255.5L433.2 255.8L434.5 255.7L435.8 255.8L437.1 256.0L438.4 256.6L439.7 256.2L441.0 255.8L442.3 255.7L443.6 255.3L444.9 255.3L446.2 254.4L447.5 254.4L448.8 254.0L450.1 253.9L451.4 253.6L452.7 253.3L454.0 254.1L455.3 254.2L456.6 254.7L457.9 255.1L459.2 255.0L460.5 255.8L461.8 256.0L463.1 256.1L464.4 257.2L465.7 257.1L467.0 257.4L468.3 258.0L469.6 258.4L470.9 259.0L472.2 259.4L473.5 259.7L474.8 260.1L476.1 260.7L477.4 261.1L478.7 260.6L480.0 259.4L481.3 258.0L482.6 257.9L483.9 257.7L485.2 257.3L486.5 256.9L487.8 257.3L489.1 257.5L490.4 257.4L491.7 257.0L493.0 257.0L494.3 256.3L495.6 255.4L496.9 255.0L498.2 255.3L499.5 256.0L500.8 256.3L502.1 257.1L503.4 257.5L504.7 257.3L506.0 258.3L507.3 258.5L508.6 257.7L509.9 257.2L511.2 256.7L512.5 255.5L513.8 255.1L514.2 255.0M525.3 259.0L526.6 258.9L527.9 258.9L529.2 259.3L530.5 259.2L531.8 258.8L533.1 258.9L534.4 259.5L535.7 259.0L537.0 259.2L538.3 259.8L539.6 259.6L540.9 259.4L542.2 259.6L543.5 259.6L544.8 260.0L546.1 260.0L547.4 260.0L548.7 260.3L550.0 260.4L551.3 260.6L552.6 260.6L553.9 260.6L555.2 260.7L556.5 260.8L557.8 260.0L559.1 259.6L560.4 259.2L561.7 258.2L563.0 257.3L564.3 256.8L564.7 256.5M574.9 254.8L576.2 254.8L577.5 254.8L577.8 254.9M587.7 256.0L589.0 256.3L590.3 256.8L591.6 257.1L592.9 257.0L594.2 257.0L595.5 257.2L596.8 257.3L598.1 257.3L599.4 256.3L600.7 256.1L602.0 255.5L603.3 254.7L604.6 254.5L605.9 253.8L607.2 253.4L608.5 253.2L609.8 253.0L611.1 252.7L612.4 252.4L613.7 252.4L615.0 252.6L616.3 252.0L617.6 252.0L618.9 251.6L620.2 251.7L621.5 251.7L622.8 251.1L624.1 251.1L625.4 251.0L626.7 251.0L628.0 251.0L629.3 250.2L630.6 250.1L631.9 250.3L633.2 250.3L634.5 249.6L635.8 249.9L637.1 250.3L638.4 250.2L639.7 250.6L641.0 250.5L642.3 250.5L643.6 250.1L643.7 250.3" stroke="#12b5b5"/>
<path d="M91.9 223.9L93.2 224.4L94.5 224.6L95.8 225.0L97.1 225.2L98.4 225.3L99.7 225.1L101.0 225.3L102.3 225.4L103.6 225.1L104.9 225.2L106.2 225.5L107.5 225.4L108.8 224.8L110.1 224.7L111.4 224.5L112.7 224.3L114.0 224.0L115.3 224.0L116.6 224.2L117.9 224.7L119.2 224.9L120.5 225.0L121.8 224.7L123.1 224.7L124.4 224.9L125.7 224.5L127.0 224.3L128.3 223.8L129.6 223.5L130.9 223.3L132.2 222.5L133.5 222.3L134.8 221.8L136.1 222.1L137.4 222.0L138.7 222.7L140.0 223.4L141.3 224.0L142.6 223.9L143.9 224.2L145.2 225.1L146.5 225.6L147.8 225.4L149.1 225.8L150.4 226.4L151.7 226.7L153.0 226.9L154.3 226.6L155.6 226.2L156.9 225.9L158.2 225.7L159.5 225.8L160.8 225.7L162.1 226.0L163.4 226.6L164.7 226.5L166.0 226.5L167.3 226.4L168.6 226.0L169.9 225.6L171.2 225.0L172.5 224.5L173.8 224.2L175.1 223.8L176.4 223.8L177.7 223.3L179.0 223.3L180.3 224.2L181.6 224.8L182.9 225.1L184.2 224.9L185.5 225.4L186.8 225.1L188.1 225.3L189.4 225.4L190.7 226.0L192.0 226.4L193.3 226.5L194.6 227.1L195.9 227.4L197.2 228.3L198.5 227.5L199.8 227.1L201.1 226.1L202.4 226.3L203.7 226.0L205.0 226.1L206.3 226.1L207.6 225.7L208.9 225.4L210.2 225.3L211.5 225.3L212.8 225.4L214.1 225.0L215.4 225.3L216.7 224.8L218.0 224.6L219.3 224.0L220.6 223.7L221.9 223.2L223.2 223.7L224.5 223.1L225.8 222.9L227.1 222.6L228.4 222.2L229.2 222.2M240.0 220.9L241.3 221.8L242.6 221.9L243.9 222.3L245.2 221.7L246.5 221.7L247.8 221.5L249.1 221.5L250.4 221.1L251.7 220.8L253.0 220.7L254.3 220.3L255.6 220.3L256.9 220.5L258.2 220.2L259.5 220.0L260.8 220.0L262.1 219.5L263.4 219.6L264.7 219.4L266.0 219.5L266.7 219.1M283.7 220.4L285.0 220.0L286.3 220.0L287.6 219.5L288.9 219.5L290.2 219.3L291.5 218.3L292.8 217.9L294.1 217.5L295.4 217.1L296.7 216.8L298.0 216.6L299.3 215.9L300.6 215.4L301.9 215.6L303.2 215.2L304.5 215.2L305.8 215.2L307.1 214.9L308.4 214.8L309.7 214.9L311.0 215.1L312.3 215.4L313.6 215.2L314.9 214.8L316.2 215.2L317.5 215.5L318.8 215.6L320.1 215.9L321.4 216.0L322.7 216.1L324.0 216.1L325.3 216.7L326.6 216.7L327.9 216.8L329.2 216.8L330.5 217.5L331.8 217.6L333.1 217.7L334.4 218.3L335.7 218.8L337.0 219.2L338.3 219.6L339.6 219.6L340.9 220.5L342.2 220.8L343.5 220.7L344.8 221.2L346.1 220.9L347.4 220.5L348.7 220.5L350.0 219.8L351.3 219.1L352.6 218.6L353.9 218.5L355.2 217.9L356.5 218.0L357.8 218.5L359.1 218.5L360.4 217.9L361.7 217.2L363.0 216.8L364.3 216.6L365.6 216.5L366.9 216.2L368.2 216.9L369.5 217.0L370.8 217.4L372.1 217.8L373.4 217.6L374.7 218.1L376.0 217.5L377.3 217.7L378.6 218.0L379.9 218.7L381.2 218.1L382.5 217.9L383.8 217.8L385.1 217.6L386.4 217.2L387.7 216.9L389.0 217.0L390.3 216.6L391.6 216.4L392.9 216.6L394.2 217.0L395.5 216.9L396.8 217.9L398.1 217.0L399.4 217.0L400.7 216.9L402.0 216.6L403.3 216.1L404.6 216.0L405.9 215.4L407.2 215.0L408.5 214.9L409.8 214.3L411.1 214.9L412.4 214.9L413.7 214.8L415.0 215.4L416.3 215.6L417.6 215.9L418.9 216.2L420.2 216.8L421.5 216.4L422.8 216.4L424.1 216.1L425.4 216.0L426.7 215.4L428.0 215.9L429.3 215.9L430.6 216.2L431.9 216.5L433.2 216.6L434.5 216.4L435.8 216.7L437.1 216.9L438.4 217.7L439.7 216.7L441.0 216.5L442.3 216.4L443.6 216.1L444.9 216.1L446.2 215.3L447.5 215.1L448.8 214.8L450.1 214.6L451.4 214.3L452.7 214.1L454.0 214.7L455.3 215.0L456.6 215.5L457.9 215.7L459.2 216.0L460.5 216.6L461.8 216.7L463.1 217.1L464.4 218.1L465.7 217.8L467.0 218.3L468.3 218.6L469.6 219.3L470.9 219.8L472.2 220.1L473.5 220.5L474.8 220.8L476.1 221.6L477.4 221.8L478.7 221.4L480.0 220.1L481.3 218.7L482.6 218.5L483.9 218.4L485.2 218.0L486.5 217.8L487.8 218.3L489.1 218.5L490.4 218.1L491.7 218.0L493.0 217.9L494.3 217.0L495.6 216.1L496.9 215.7L498.2 216.1L499.5 216.6L500.8 217.2L502.1 217.8L503.4 218.2L504.7 218.3L506.0 219.0L507.3 219.4L508.6 218.4L509.9 218.1L511.2 217.5L512.5 216.4L513.8 215.7L514.2 215.7M525.3 219.8L526.6 219.9L527.9 219.6L529.2 220.0L530.5 219.9L531.8 219.8L533.1 219.7L534.4 220.2L535.7 219.9L537.0 220.1L538.3 220.4L539.6 220.5L540.9 220.1L542.2 220.6L543.5 220.3L544.8 220.7L546.1 220.9L547.4 220.8L548.7 220.9L550.0 221.0L551.3 221.2L552.6 221.4L553.9 221.3L555.2 221.6L556.5 221.5L557.8 220.7L559.1 220.4L560.4 219.8L561.7 219.2L563.0 218.2L564.3 217.5L564.7 217.2M574.9 215.5L576.2 215.7L577.5 215.4L577.8 215.9M587.7 217.0L589.0 217.1L590.3 217.8L591.6 217.8L592.9 217.8L594.2 217.9L595.5 218.0L596.8 218.2L598.1 217.9L599.4 217.2L600.7 216.9L602.0 216.3L603.3 215.7L604.6 215.3L605.9 214.7L607.2 214.4L608.5 214.3L609.8 213.9L611.1 213.5L612.4 213.2L613.7 213.4L615.0 213.3L616.3 212.9L617.6 212.7L618.9 212.4L620.2 212.4L621.5 212.7L622.8 212.1L624.1 212.0L625.4 211.8L626.7 211.8L628.0 211.8L629.3 211.1L630.6 210.7L631.9 211.1L633.2 211.1L634.5 210.4L635.8 210.8L637.1 210.9L638.4 211.0L639.7 211.4L641.0 211.3L642.3 211.3L643.6 211.0L643.7 211.1" stroke="#3b8acc"/>
<path d="M91.9 327.9L93.2 328.6L94.5 328.7L95.8 329.1L97.1 329.5L98.4 329.4L99.7 329.3L101.0 329.2L102.3 329.4L103.6 329.2L104.9 329.1L106.2 329.6L107.5 329.3L108.8 329.1L110.1 329.0L111.4 328.6L112.7 328.6L114.0 328.1L115.3 328.2L116.6 328.1L117.9 329.0L119.2 328.9L120.5 329.2L121.8 329.0L123.1 328.9L124.4 329.0L125.7 328.5L127.0 328.4L128.3 328.0L129.6 327.4L130.9 327.2L132.2 326.6L133.5 326.3L134.8 325.7L136.1 326.2L137.4 326.1L138.7 327.0L140.0 327.3L141.3 328.2L142.6 328.1L143.9 328.4L145.2 329.1L146.5 329.7L147.8 329.5L149.1 330.0L150.4 330.6L151.7 330.8L153.0 331.2L154.3 330.8L155.6 330.3L156.9 330.0L158.2 329.7L159.5 329.9L160.8 329.7L162.1 329.9L163.4 330.8L164.7 330.8L166.0 330.7L167.3 330.5L168.6 329.9L169.9 329.7L171.2 329.1L172.5 328.7L173.8 328.4L175.1 327.9L176.4 327.9L177.7 327.4L179.0 327.5L180.3 328.1L181.6 328.8L182.9 329.1L184.2 329.1L185.5 329.6L186.8 329.2L188.1 329.2L189.4 329.5L190.7 329.9L192.0 330.6L193.3 330.8L194.6 331.2L195.9 331.5L197.2 332.5L198.5 331.7L199.8 331.4L201.1 330.5L202.4 330.4L203.7 329.9L205.0 330.2L206.3 330.1L207.6 329.8L208.9 329.6L210.2 329.4L211.5 329.4L212.8 329.5L214.1 329.0L215.4 329.2L216.7 328.8L218.0 328.6L219.3 328.0L220.6 327.9L221.9 327.6L223.2 327.6L224.5 327.2L225.8 327.2L227.1 326.9L228.4 326.3L229.2 326.3M240.0 324.8L241.3 325.8L242.6 326.2L243.9 326.3L245.2 326.1L246.5 326.1L247.8 325.4L249.1 325.6L250.4 325.2L251.7 324.9L253.0 325.0L254.3 324.6L255.6 324.3L256.9 324.5L258.2 324.0L259.5 324.2L260.8 324.2L262.1 323.8L263.4 323.6L264.7 323.3L266.0 323.6L266.7 323.5M283.7 324.4L285.0 324.2L286.3 324.2L287.6 323.7L288.9 323.7L290.2 323.3L291.5 322.5L292.8 321.9L294.1 321.6L295.4 321.1L296.7 321.0L298.0 320.7L299.3 319.7L300.6 319.5L301.9 319.6L303.2 319.3L304.5 319.2L305.8 319.2L307.1 318.9L308.4 319.0L309.7 319.0L311.0 319.2L312.3 319.4L313.6 319.0L314.9 318.9L316.2 319.1L317.5 319.5L318.8 319.6L320.1 319.8L321.4 320.3L322.7 320.3L324.0 320.0L325.3 320.8L326.6 320.9L327.9 320.7L329.2 321.1L330.5 321.9L331.8 321.6L333.1 322.0L334.4 322.4L335.7 323.0L337.0 323.1L338.3 323.9L339.6 323.8L340.9 324.4L342.2 324.8L343.5 324.9L344.8 325.3L346.1 325.1L347.4 324.5L348.7 324.5L350.0 323.8L351.3 323.1L352.6 322.6L353.9 322.5L355.2 322.0L356.5 322.0L357.8 322.4L359.1 322.6L360.4 321.9L361.7 321.3L363.0 321.1L364.3 320.8L365.6 320.4L366.9 320.3L368.2 320.9L369.5 321.4L370.8 321.4L372.1 321.7L373.4 321.7L374.7 321.9L376.0 321.9L377.3 321.9L378.6 322.1L379.9 322.6L381.2 322.1L382.5 322.0L383.8 321.9L385.1 321.7L386.4 321.4L387.7 320.9L389.0 321.2L390.3 320.8L391.6 320.7L392.9 320.7L394.2 321.0L395.5 321.1L396.8 321.7L398.1 321.2L399.4 321.0L400.7 320.8L402.0 320.7L403.3 320.4L404.6 320.3L405.9 319.6L407.2 319.2L408.5 318.9L409.8 318.4L411.1 319.1L412.4 319.1L413.7 318.9L415.0 319.6L416.3 319.6L417.6 320.1L418.9 320.3L420.2 320.8L421.5 320.5L422.8 320.6L424.1 320.2L425.4 320.3L426.7 319.4L428.0 319.9L429.3 319.9L430.6 320.3L431.9 320.5L433.2 320.6L434.5 320.7L435.8 320.7L437.1 321.0L438.4 321.6L439.7 321.0L441.0 320.7L442.3 320.6L443.6 320.2L444.9 320.0L446.2 319.4L447.5 319.2L448.8 318.7L450.1 318.9L451.4 318.5L452.7 318.2L454.0 318.9L455.3 319.1L456.6 319.7L457.9 320.0L459.2 320.0L460.5 320.8L461.8 320.9L463.1 321.0L464.4 322.0L465.7 321.9L467.0 322.3L468.3 322.8L469.6 323.1L470.9 323.9L472.2 324.4L473.5 324.7L474.8 325.0L476.1 325.7L477.4 325.9L478.7 325.6L480.0 324.3L481.3 323.1L482.6 322.6L483.9 322.4L485.2 322.2L486.5 321.9L487.8 322.3L489.1 322.4L490.4 322.2L491.7 322.0L493.0 321.8L494.3 321.2L495.6 320.2L496.9 320.0L498.2 320.3L499.5 320.8L500.8 321.2L502.1 322.0L503.4 322.3L504.7 322.4L506.0 323.0L507.3 323.2L508.6 322.7L509.9 322.2L511.2 321.6L512.5 320.4L513.8 319.9L514.2 319.9M525.3 324.0L526.6 324.1L527.9 323.6L529.2 324.3L530.5 324.0L531.8 323.9L533.1 324.0L534.4 324.2L535.7 323.9L537.0 324.2L538.3 324.6L539.6 324.4L540.9 324.3L542.2 324.7L543.5 324.4L544.8 325.0L546.1 325.2L547.4 324.8L548.7 325.0L550.0 325.1L551.3 325.3L552.6 325.3L553.9 325.5L555.2 325.7L556.5 325.6L557.8 325.0L559.1 324.4L560.4 324.1L561.7 323.0L563.0 322.3L564.3 321.6L564.7 321.2M574.9 319.7L576.2 319.7L577.5 319.5L577.8 319.9M587.7 321.0L589.0 321.2L590.3 321.7L591.6 321.9L592.9 321.9L594.2 321.8L595.5 322.0L596.8 322.1L598.1 322.3L599.4 321.1L600.7 321.0L602.0 320.2L603.3 319.7L604.6 319.6L605.9 318.8L607.2 318.2L608.5 318.2L609.8 317.9L611.1 317.7L612.4 317.3L613.7 317.5L615.0 317.3L616.3 317.0L617.6 316.8L618.9 316.6L620.2 316.6L621.5 316.5L622.8 316.1L624.1 316.2L625.4 315.8L626.7 315.9L628.0 316.0L629.3 315.2L630.6 315.1L631.9 315.2L633.2 315.1L634.5 314.5L635.8 314.9L637.1 315.0L638.4 315.1L639.7 315.3L641.0 315.5L642.3 315.4L643.6 314.9L643.7 315.2" stroke="#2149ac"/>
<path d="M91.9 286.9L93.2 287.6L94.5 287.8L95.8 288.1L97.1 288.5L98.4 288.5L99.7 288.2L101.0 288.4L102.3 288.4L103.6 288.3L104.9 288.3L106.2 288.6L107.5 288.3L108.8 287.8L110.1 287.9L111.4 287.7L112.7 287.6L114.0 287.1L115.3 287.2L116.6 287.4L117.9 287.8L119.2 287.9L120.5 288.3L121.8 288.0L123.1 287.9L124.4 288.0L125.7 287.5L127.0 287.2L128.3 286.9L129.6 286.4L130.9 286.2L132.2 285.7L133.5 285.4L134.8 285.0L136.1 285.2L137.4 285.4L138.7 286.0L140.0 286.5L141.3 287.1L142.6 286.9L143.9 287.5L145.2 288.0L146.5 288.7L147.8 288.4L149.1 289.0L150.4 289.4L151.7 289.8L153.0 290.1L154.3 290.0L155.6 289.4L156.9 289.0L158.2 288.8L159.5 288.9L160.8 288.7L162.1 289.0L163.4 289.5L164.7 289.8L166.0 289.7L167.3 289.5L168.6 289.1L169.9 288.7L171.2 288.1L172.5 287.6L173.8 287.2L175.1 287.0L176.4 286.7L177.7 286.4L179.0 286.6L180.3 287.1L181.6 287.7L182.9 288.1L184.2 287.9L185.5 288.5L186.8 288.2L188.1 288.2L189.4 288.7L190.7 289.1L192.0 289.4L193.3 289.8L194.6 290.4L195.9 290.5L197.2 291.4L198.5 290.4L199.8 290.3L201.1 289.3L202.4 289.4L203.7 289.2L205.0 289.2L206.3 289.3L207.6 289.1L208.9 288.8L210.2 288.4L211.5 288.4L212.8 288.7L214.1 288.0L215.4 288.1L216.7 287.8L218.0 287.7L219.3 287.1L220.6 286.9L221.9 286.6L223.2 286.7L224.5 286.1L225.8 286.0L227.1 285.9L228.4 285.4L229.2 285.1M240.0 284.0L241.3 284.8L242.6 284.9L243.9 285.4L245.2 285.1L246.5 284.9L247.8 284.4L249.1 284.8L250.4 284.1L251.7 284.2L253.0 283.8L254.3 283.4L255.6 283.3L256.9 283.7L258.2 283.0L259.5 283.1L260.8 283.3L262.1 282.8L263.4 282.7L264.7 282.3L266.0 282.4L266.7 282.3M283.7 283.3L285.0 283.1L286.3 283.3L287.6 282.7L288.9 282.6L290.2 282.3L291.5 281.4L292.8 281.1L294.1 280.8L295.4 280.1L296.7 280.0L298.0 279.7L299.3 278.7L300.6 278.5L301.9 278.5L303.2 278.3L304.5 278.2L305.8 278.2L307.1 278.0L308.4 277.9L309.7 278.0L311.0 278.1L312.3 278.5L313.6 278.0L314.9 277.9L316.2 278.0L317.5 278.7L318.8 278.6L320.1 279.0L321.4 279.2L322.7 279.4L324.0 279.1L325.3 279.8L326.6 279.9L327.9 279.9L329.2 280.0L330.5 280.6L331.8 280.8L333.1 280.8L334.4 281.4L335.7 282.2L337.0 282.3L338.3 282.9L339.6 282.9L340.9 283.6L342.2 283.8L343.5 283.8L344.8 284.1L346.1 284.0L347.4 283.4L348.7 283.4L350.0 282.9L351.3 282.2L352.6 281.6L353.9 281.7L355.2 281.2L356.5 281.1L357.8 281.6L359.1 281.5L360.4 280.9L361.7 280.3L363.0 280.0L364.3 279.9L365.6 279.7L366.9 279.1L368.2 279.9L369.5 280.2L370.8 280.3L372.1 280.9L373.4 280.8L374.7 281.0L376.0 280.9L377.3 280.9L378.6 281.0L379.9 281.8L381.2 281.3L382.5 280.9L383.8 280.9L385.1 280.8L386.4 280.3L387.7 280.0L389.0 280.1L390.3 279.7L391.6 279.5L392.9 279.5L394.2 280.2L395.5 280.2L396.8 280.9L398.1 280.2L399.4 280.2L400.7 279.7L402.0 279.7L403.3 279.2L404.6 279.2L405.9 278.6L407.2 277.9L408.5 278.0L409.8 277.4L411.1 278.0L412.4 278.1L413.7 278.1L415.0 278.4L416.3 278.6L417.6 279.0L418.9 279.3L420.2 280.0L421.5 279.7L422.8 279.7L424.1 279.2L425.4 279.4L426.7 278.4L428.0 279.1L429.3 278.9L430.6 279.4L431.9 279.5L433.2 279.9L434.5 279.7L435.8 279.8L437.1 280.0L438.4 280.7L439.7 279.8L441.0 279.6L442.3 279.5L443.6 279.3L444.9 279.1L446.2 278.4L447.5 278.2L448.8 277.8L450.1 277.8L451.4 277.5L452.7 277.2L454.0 277.9L455.3 278.1L456.6 278.6L457.9 278.9L459.2 278.9L460.5 279.7L461.8 279.9L463.1 280.0L464.4 281.2L465.7 281.0L467.0 281.4L468.3 281.8L469.6 282.1L470.9 283.0L472.2 283.4L473.5 283.4L474.8 284.2L476.1 284.7L477.4 285.0L478.7 284.4L480.0 283.1L481.3 281.9L482.6 281.7L483.9 281.4L485.2 281.1L486.5 280.8L487.8 281.2L489.1 281.6L490.4 281.3L491.7 281.1L493.0 280.9L494.3 279.9L495.6 279.2L496.9 278.9L498.2 279.3L499.5 279.9L500.8 280.3L502.1 281.0L503.4 281.2L504.7 281.4L506.0 281.9L507.3 282.5L508.6 281.6L509.9 281.1L511.2 280.6L512.5 279.4L513.8 278.8L514.2 278.8M525.3 283.0L526.6 282.8L527.9 282.6L529.2 283.3L530.5 283.0L531.8 282.8L533.1 283.0L534.4 283.3L535.7 283.1L537.0 283.3L538.3 283.4L539.6 283.5L540.9 283.2L542.2 283.6L543.5 283.5L544.8 283.9L546.1 284.2L547.4 283.7L548.7 283.9L550.0 284.1L551.3 284.3L552.6 284.2L553.9 284.4L555.2 284.5L556.5 284.6L557.8 284.0L559.1 283.6L560.4 283.0L561.7 282.2L563.0 281.2L564.3 280.7L564.7 280.4M574.9 278.7L576.2 278.7L577.5 278.4L577.8 279.0M587.7 280.1L589.0 280.4L590.3 280.7L591.6 280.9L592.9 280.8L594.2 281.0L595.5 281.1L596.8 281.1L598.1 281.0L599.4 280.3L600.7 280.2L602.0 279.3L603.3 278.7L604.6 278.4L605.9 277.8L607.2 277.5L608.5 277.2L609.8 276.8L611.1 276.7L612.4 276.3L613.7 276.4L615.0 276.3L616.3 276.1L617.6 275.9L618.9 275.6L620.2 275.7L621.5 275.6L622.8 275.1L624.1 275.1L625.4 275.0L626.7 275.0L628.0 274.9L629.3 274.2L630.6 274.1L631.9 274.4L633.2 274.1L634.5 273.6L635.8 273.7L637.1 274.1L638.4 274.1L639.7 274.3L641.0 274.7L642.3 274.2L643.6 274.2L643.7 273.9" stroke="#49389f"/>
<path d="M91.9 244.7L93.2 245.3L94.5 245.5L95.8 245.8L97.1 246.1L98.4 246.0L99.7 246.0L101.0 246.1L102.3 246.2L103.6 246.0L104.9 246.0L106.2 246.2L107.5 246.1L108.8 245.6L110.1 245.7L111.4 245.5L112.7 245.2L114.0 245.0L115.3 244.9L116.6 245.0L117.9 245.5L119.2 245.7L120.5 246.0L121.8 245.7L123.1 245.6L124.4 245.7L125.7 245.2L127.0 245.1L128.3 244.6L129.6 244.2L130.9 244.1L132.2 243.1L133.5 243.2L134.8 242.6L136.1 243.1L137.4 243.0L138.7 243.6L140.0 244.2L141.3 244.8L142.6 244.6L143.9 245.3L145.2 245.9L146.5 246.4L147.8 246.1L149.1 246.7L150.4 247.2L151.7 247.5L153.0 247.8L154.3 247.5L155.6 247.1L156.9 246.8L158.2 246.5L159.5 246.6L160.8 246.3L162.1 246.7L163.4 247.3L164.7 247.4L166.0 247.5L167.3 247.2L168.6 246.6L169.9 246.4L171.2 245.7L172.5 245.4L173.8 245.0L175.1 244.7L176.4 244.7L177.7 244.1L179.0 244.0L180.3 245.0L181.6 245.6L182.9 245.9L184.2 245.9L185.5 246.3L186.8 245.9L188.1 246.2L189.4 246.3L190.7 246.8L192.0 247.3L193.3 247.4L194.6 248.0L195.9 248.2L197.2 249.1L198.5 248.2L199.8 248.1L201.1 246.9L202.4 247.3L203.7 246.8L205.0 247.0L206.3 246.9L207.6 246.6L208.9 246.4L210.2 246.2L211.5 246.0L212.8 246.3L214.1 245.7L215.4 245.9L216.7 245.7L218.0 245.4L219.3 244.8L220.6 244.5L221.9 244.1L223.2 244.3L224.5 243.8L225.8 243.8L227.1 243.4L228.4 243.1L229.2 242.8M240.0 241.6L241.3 242.7L242.6 242.7L243.9 243.2L245.2 242.7L246.5 242.6L247.8 242.1L249.1 242.5L250.4 241.9L251.7 241.8L253.0 241.7L254.3 241.2L255.6 241.2L256.9 241.1L258.2 241.0L259.5 240.8L260.8 240.8L262.1 240.5L263.4 240.4L264.7 240.2L266.0 240.0L266.7 240.1M283.7 241.1L285.0 240.9L286.3 241.0L287.6 240.2L288.9 240.5L290.2 240.0L291.5 239.2L292.8 238.5L294.1 238.3L295.4 237.7L296.7 237.6L298.0 237.4L299.3 236.4L300.6 236.2L301.9 236.3L303.2 236.0L304.5 235.9L305.8 235.9L307.1 235.5L308.4 235.4L309.7 235.7L311.0 235.8L312.3 235.9L313.6 235.7L314.9 235.7L316.2 235.7L317.5 236.4L318.8 236.4L320.1 236.5L321.4 236.8L322.7 236.8L324.0 236.7L325.3 237.4L326.6 237.6L327.9 237.6L329.2 237.8L330.5 238.5L331.8 238.4L333.1 238.6L334.4 239.1L335.7 239.7L337.0 239.9L338.3 240.6L339.6 240.5L340.9 241.2L342.2 241.6L343.5 241.7L344.8 241.9L346.1 241.7L347.4 241.1L348.7 241.2L350.0 240.5L351.3 240.0L352.6 239.3L353.9 239.3L355.2 238.8L356.5 238.8L357.8 239.3L359.1 239.1L360.4 238.7L361.7 237.9L363.0 237.8L364.3 237.6L365.6 237.2L366.9 236.8L368.2 237.5L369.5 237.9L370.8 238.2L372.1 238.6L373.4 238.5L374.7 238.7L376.0 238.4L377.3 238.4L378.6 238.8L379.9 239.6L381.2 238.8L382.5 238.7L383.8 238.4L385.1 238.6L386.4 238.0L387.7 237.8L389.0 237.6L390.3 237.4L391.6 237.3L392.9 237.4L394.2 237.9L395.5 237.9L396.8 238.5L398.1 237.8L399.4 237.8L400.7 237.4L402.0 237.7L403.3 237.1L404.6 236.9L405.9 236.3L407.2 235.6L408.5 235.7L409.8 235.3L411.1 235.7L412.4 235.5L413.7 235.7L415.0 236.2L416.3 236.4L417.6 236.7L418.9 237.2L420.2 237.7L421.5 237.3L422.8 237.2L424.1 236.9L425.4 236.9L426.7 236.3L428.0 236.8L429.3 236.8L430.6 236.9L431.9 237.2L433.2 237.4L434.5 237.3L435.8 237.4L437.1 237.8L438.4 238.3L439.7 237.5L441.0 237.4L442.3 237.2L443.6 237.0L444.9 236.9L446.2 236.1L447.5 236.0L448.8 235.4L450.1 235.4L451.4 235.0L452.7 235.0L454.0 235.5L455.3 235.6L456.6 236.1L457.9 236.5L459.2 236.7L460.5 237.5L461.8 237.6L463.1 237.7L464.4 238.7L465.7 238.6L467.0 238.9L468.3 239.4L469.6 239.8L470.9 240.7L472.2 241.0L473.5 241.2L474.8 241.6L476.1 242.4L477.4 242.9L478.7 242.2L480.0 240.8L481.3 239.8L482.6 239.2L483.9 239.2L485.2 238.9L486.5 238.6L487.8 239.0L489.1 239.1L490.4 239.1L491.7 238.8L493.0 238.7L494.3 237.9L495.6 236.9L496.9 236.7L498.2 237.0L499.5 237.4L500.8 238.0L502.1 238.4L503.4 238.9L504.7 238.9L506.0 239.9L507.3 240.0L508.6 239.3L509.9 239.0L511.2 238.3L512.5 237.1L513.8 236.5L514.2 236.4M525.3 240.6L526.6 240.8L527.9 240.4L529.2 241.0L530.5 240.7L531.8 240.4L533.1 240.8L534.4 240.9L535.7 240.7L537.0 240.9L538.3 241.2L539.6 241.4L540.9 240.9L542.2 241.4L543.5 241.2L544.8 241.7L546.1 241.9L547.4 241.5L548.7 241.8L550.0 242.0L551.3 242.1L552.6 241.9L553.9 242.2L555.2 242.3L556.5 242.2L557.8 241.4L559.1 241.0L560.4 240.8L561.7 239.7L563.0 239.1L564.3 238.4L564.7 238.2M574.9 236.4L576.2 236.5L577.5 236.1L577.8 236.6M587.7 237.8L589.0 238.1L590.3 238.6L591.6 238.5L592.9 238.5L594.2 238.7L595.5 238.8L596.8 238.9L598.1 239.0L599.4 238.0L600.7 237.8L602.0 237.1L603.3 236.3L604.6 236.3L605.9 235.5L607.2 234.9L608.5 234.8L609.8 234.6L611.1 234.2L612.4 234.1L613.7 234.1L615.0 234.1L616.3 233.7L617.6 233.6L618.9 233.3L620.2 233.4L621.5 233.4L622.8 232.8L624.1 232.9L625.4 232.7L626.7 232.7L628.0 232.6L629.3 231.7L630.6 231.6L631.9 232.0L633.2 231.6L634.5 231.3L635.8 231.5L637.1 231.8L638.4 232.0L639.7 232.2L641.0 232.3L642.3 232.0L643.6 231.8L643.7 231.9" stroke="#8a2394"/>
</g>
<g fill="none" stroke="#2a2829" stroke-width="1.7">
<rect x="64.0" y="5.5" width="620.3" height="152.2"/>
<rect x="64.0" y="201.2" width="620.3" height="152.1"/>
<path d="M115.6 157.6v5.7M115.6 353.3v5.7M180.2 157.6v5.7M180.2 353.3v5.7M244.8 157.6v5.7M244.8 353.3v5.7M309.5 157.6v5.7M309.5 353.3v5.7M374.1 157.6v5.7M374.1 353.3v5.7M438.7 157.6v5.7M438.7 353.3v5.7M503.4 157.6v5.7M503.4 353.3v5.7M568.0 157.6v5.7M568.0 353.3v5.7M632.6 157.6v5.7M632.6 353.3v5.7M64.0 5.5h-6M64.0 35.9h-6M64.0 66.3h-6M64.0 96.7h-6M64.0 127.2h-6M64.0 157.6h-6M64.0 201.2h-6M64.0 239.2h-6M64.0 277.2h-6M64.0 315.3h-6M64.0 353.3h-6"/>
</g>
<g font-family="Liberation Sans, sans-serif" font-size="14.4" fill="#2a2829">
<text x="52.2" y="10.5" text-anchor="end">0.10</text>
<text x="52.2" y="40.9" text-anchor="end">0.08</text>
<text x="52.2" y="71.4" text-anchor="end">0.06</text>
<text x="52.2" y="101.8" text-anchor="end">0.04</text>
<text x="52.2" y="132.2" text-anchor="end">0.02</text>
<text x="52.2" y="162.7" text-anchor="end">0.00</text>
<text x="52.6" y="206.2" text-anchor="end">200</text>
<text x="52.6" y="244.3" text-anchor="end">100</text>
<text x="52.6" y="282.3" text-anchor="end">0</text>
<text x="52.6" y="320.3" text-anchor="end">−100</text>
<text x="52.6" y="358.4" text-anchor="end">−200</text>
<text x="115.6" y="376.9" text-anchor="middle">22:00</text>
<text x="180.2" y="376.9" text-anchor="middle">22:30</text>
<text x="244.8" y="376.9" text-anchor="middle">23:00</text>
<text x="309.5" y="376.9" text-anchor="middle">23:30</text>
<text x="374.1" y="376.9" text-anchor="middle">00:00</text>
<text x="438.7" y="376.9" text-anchor="middle">00:30</text>
<text x="503.4" y="376.9" text-anchor="middle">01:00</text>
<text x="568.0" y="376.9" text-anchor="middle">01:30</text>
<text x="632.6" y="376.9" text-anchor="middle">02:00</text>
<text x="374.1" y="397.5" text-anchor="middle" font-size="14.5">Time (UTC)</text>
<text transform="translate(10.7 82.6) rotate(-90)" text-anchor="middle" font-size="14.3">Amplitude</text>
<text transform="translate(10.7 277.9) rotate(-90)" text-anchor="middle" font-size="14.3">Phase (deg)</text>
</g>
<rect x="411.7" y="8.6" width="269.7" height="42.7" fill="#fff" fill-opacity="0.55" stroke="#151515" stroke-width="1.4"/>
<path d="M430 52h7M472 52h4.7M554 52h5M604.5 52h5" stroke="#1a1a1a" stroke-width="1.2" fill="none"/>
<g font-family="Liberation Sans, sans-serif" font-size="8.5" fill="#000" stroke="#000" stroke-width="0.3" word-spacing="0.5">
<circle cx="421.3" cy="13.8" r="2.3" fill="#e8177f" stroke="none"/>
<text x="431.0" y="16.9">21560 MHz</text>
<circle cx="421.3" cy="24.8" r="2.3" fill="#ee3e42" stroke="none"/>
<text x="431.0" y="27.9">21600 MHz</text>
<circle cx="421.3" cy="35.8" r="2.3" fill="#f3802c" stroke="none"/>
<text x="431.0" y="38.9">21640 MHz</text>
<circle cx="421.3" cy="46.8" r="2.3" fill="#eba730" stroke="none"/>
<text x="431.0" y="49.9">21680 MHz</text>
<circle cx="482.9" cy="13.8" r="2.3" fill="#dcd42a" stroke="none"/>
<text x="489.7" y="16.9">21720 MHz</text>
<circle cx="482.9" cy="24.8" r="2.3" fill="#e6e690" stroke="none"/>
<text x="489.7" y="27.9">21760 MHz</text>
<circle cx="482.9" cy="35.8" r="2.3" fill="#74c45a" stroke="none"/>
<text x="489.7" y="38.9">21800 MHz</text>
<circle cx="552.8" cy="13.8" r="2.3" fill="#2fb350" stroke="none"/>
<text x="562.0" y="16.9">21840 MHz</text>
<circle cx="552.8" cy="24.8" r="2.3" fill="#12b5b5" stroke="none"/>
<text x="562.0" y="27.9">21880 MHz</text>
<circle cx="552.8" cy="35.8" r="2.3" fill="#3b8acc" stroke="none"/>
<text x="562.0" y="38.9">21920 MHz</text>
<circle cx="620.5" cy="13.8" r="2.3" fill="#2149ac" stroke="none"/>
<text x="630.4" y="16.9">21960 MHz</text>
<circle cx="620.5" cy="24.8" r="2.3" fill="#49389f" stroke="none"/>
<text x="630.4" y="27.9">22000 MHz</text>
<circle cx="620.5" cy="35.8" r="2.3" fill="#8a2394" stroke="none"/>
<text x="630.4" y="38.9">22040 MHz</text>
</g>
</svg>
</body></html>
